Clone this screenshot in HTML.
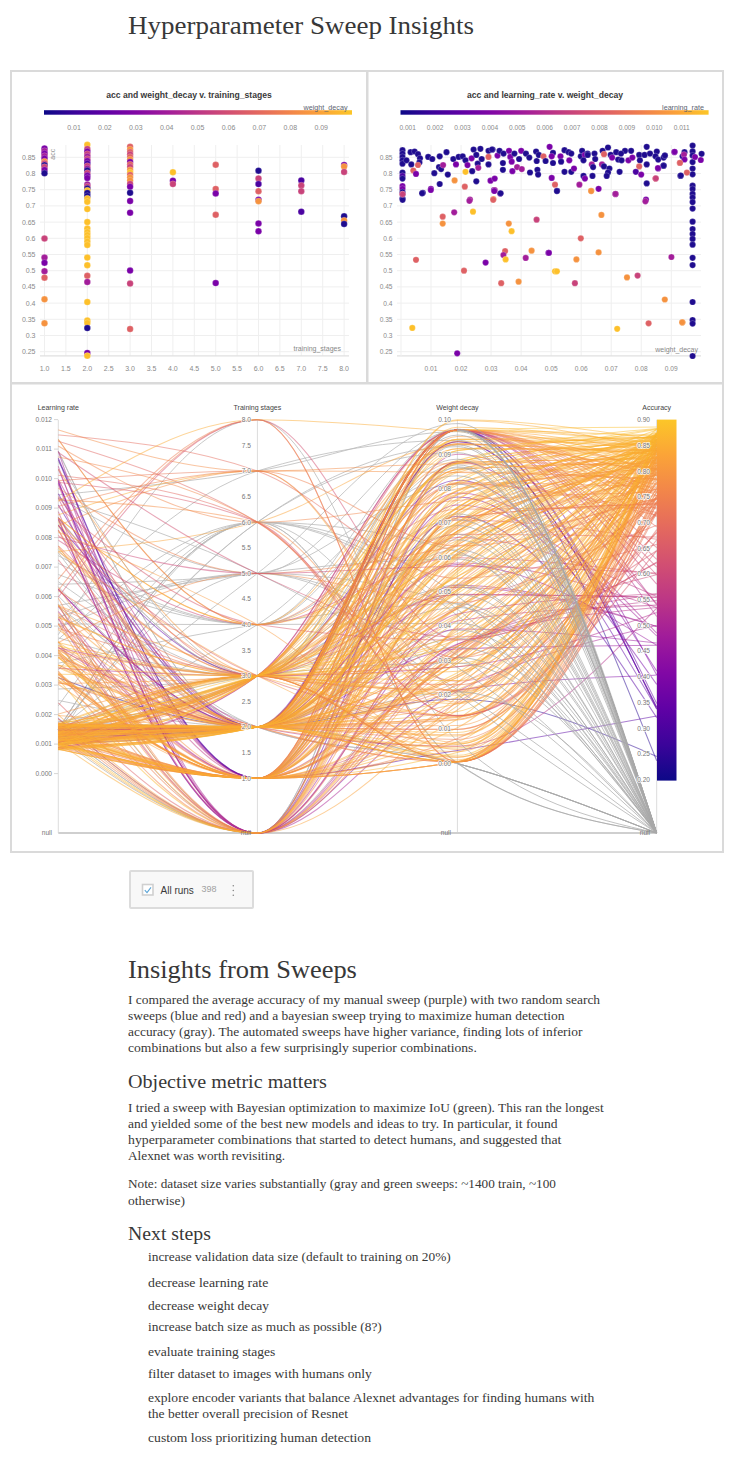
<!DOCTYPE html>
<html><head><meta charset="utf-8"><style>
html,body{margin:0;padding:0;background:#fff;width:738px;height:1466px;overflow:hidden;position:relative}
.t{position:absolute;white-space:nowrap;font-family:"Liberation Serif",serif;color:#383838;transform-origin:0 0}
svg{position:absolute;left:0;top:0}
.runs{position:absolute;left:128.5px;top:870px;width:121px;height:35px;border:2px solid #dcdcdc;border-radius:2px;background:#f8f8f8}
</style></head><body>
<svg width="738" height="1466" viewBox="0 0 738 1466">
<rect x="10" y="70" width="714" height="2" fill="#dadada"/>
<rect x="10" y="70" width="2" height="783" fill="#dadada"/>
<rect x="10" y="851" width="714" height="2" fill="#dadada"/>
<rect x="722" y="70" width="2" height="783" fill="#dadada"/>
<rect x="366" y="70" width="2.5" height="314" fill="#dadada"/>
<rect x="10" y="382" width="714" height="2.5" fill="#dadada"/>
<line x1="44.5" y1="145" x2="44.5" y2="356" stroke="#efefef" stroke-width="1"/>
<line x1="65.9" y1="145" x2="65.9" y2="356" stroke="#efefef" stroke-width="1"/>
<line x1="87.3" y1="145" x2="87.3" y2="356" stroke="#efefef" stroke-width="1"/>
<line x1="108.69999999999999" y1="145" x2="108.69999999999999" y2="356" stroke="#efefef" stroke-width="1"/>
<line x1="130.1" y1="145" x2="130.1" y2="356" stroke="#efefef" stroke-width="1"/>
<line x1="151.5" y1="145" x2="151.5" y2="356" stroke="#efefef" stroke-width="1"/>
<line x1="172.89999999999998" y1="145" x2="172.89999999999998" y2="356" stroke="#efefef" stroke-width="1"/>
<line x1="194.29999999999998" y1="145" x2="194.29999999999998" y2="356" stroke="#efefef" stroke-width="1"/>
<line x1="215.7" y1="145" x2="215.7" y2="356" stroke="#efefef" stroke-width="1"/>
<line x1="237.1" y1="145" x2="237.1" y2="356" stroke="#efefef" stroke-width="1"/>
<line x1="258.5" y1="145" x2="258.5" y2="356" stroke="#efefef" stroke-width="1"/>
<line x1="279.9" y1="145" x2="279.9" y2="356" stroke="#efefef" stroke-width="1"/>
<line x1="301.29999999999995" y1="145" x2="301.29999999999995" y2="356" stroke="#efefef" stroke-width="1"/>
<line x1="322.7" y1="145" x2="322.7" y2="356" stroke="#efefef" stroke-width="1"/>
<line x1="344.09999999999997" y1="145" x2="344.09999999999997" y2="356" stroke="#efefef" stroke-width="1"/>
<line x1="40" y1="157.3" x2="349" y2="157.3" stroke="#efefef" stroke-width="1"/>
<line x1="40" y1="173.5" x2="349" y2="173.5" stroke="#efefef" stroke-width="1"/>
<line x1="40" y1="189.70000000000002" x2="349" y2="189.70000000000002" stroke="#efefef" stroke-width="1"/>
<line x1="40" y1="205.9" x2="349" y2="205.9" stroke="#efefef" stroke-width="1"/>
<line x1="40" y1="222.10000000000002" x2="349" y2="222.10000000000002" stroke="#efefef" stroke-width="1"/>
<line x1="40" y1="238.3" x2="349" y2="238.3" stroke="#efefef" stroke-width="1"/>
<line x1="40" y1="254.5" x2="349" y2="254.5" stroke="#efefef" stroke-width="1"/>
<line x1="40" y1="270.7" x2="349" y2="270.7" stroke="#efefef" stroke-width="1"/>
<line x1="40" y1="286.9" x2="349" y2="286.9" stroke="#efefef" stroke-width="1"/>
<line x1="40" y1="303.1" x2="349" y2="303.1" stroke="#efefef" stroke-width="1"/>
<line x1="40" y1="319.3" x2="349" y2="319.3" stroke="#efefef" stroke-width="1"/>
<line x1="40" y1="335.5" x2="349" y2="335.5" stroke="#efefef" stroke-width="1"/>
<line x1="40" y1="351.7" x2="349" y2="351.7" stroke="#efefef" stroke-width="1"/>
<line x1="40" y1="355.8" x2="349" y2="355.8" stroke="#e0e0e0" stroke-width="1.2"/>
<text x="35.5" y="159.8" font-family='"Liberation Sans", sans-serif' font-size="7" fill="#8a8a8a" text-anchor="end" font-weight="normal" >0.85</text>
<text x="35.5" y="176.0" font-family='"Liberation Sans", sans-serif' font-size="7" fill="#8a8a8a" text-anchor="end" font-weight="normal" >0.8</text>
<text x="35.5" y="192.20000000000002" font-family='"Liberation Sans", sans-serif' font-size="7" fill="#8a8a8a" text-anchor="end" font-weight="normal" >0.75</text>
<text x="35.5" y="208.4" font-family='"Liberation Sans", sans-serif' font-size="7" fill="#8a8a8a" text-anchor="end" font-weight="normal" >0.7</text>
<text x="35.5" y="224.60000000000002" font-family='"Liberation Sans", sans-serif' font-size="7" fill="#8a8a8a" text-anchor="end" font-weight="normal" >0.65</text>
<text x="35.5" y="240.8" font-family='"Liberation Sans", sans-serif' font-size="7" fill="#8a8a8a" text-anchor="end" font-weight="normal" >0.6</text>
<text x="35.5" y="257.0" font-family='"Liberation Sans", sans-serif' font-size="7" fill="#8a8a8a" text-anchor="end" font-weight="normal" >0.55</text>
<text x="35.5" y="273.2" font-family='"Liberation Sans", sans-serif' font-size="7" fill="#8a8a8a" text-anchor="end" font-weight="normal" >0.5</text>
<text x="35.5" y="289.4" font-family='"Liberation Sans", sans-serif' font-size="7" fill="#8a8a8a" text-anchor="end" font-weight="normal" >0.45</text>
<text x="35.5" y="305.6" font-family='"Liberation Sans", sans-serif' font-size="7" fill="#8a8a8a" text-anchor="end" font-weight="normal" >0.4</text>
<text x="35.5" y="321.8" font-family='"Liberation Sans", sans-serif' font-size="7" fill="#8a8a8a" text-anchor="end" font-weight="normal" >0.35</text>
<text x="35.5" y="338.0" font-family='"Liberation Sans", sans-serif' font-size="7" fill="#8a8a8a" text-anchor="end" font-weight="normal" >0.3</text>
<text x="35.5" y="354.2" font-family='"Liberation Sans", sans-serif' font-size="7" fill="#8a8a8a" text-anchor="end" font-weight="normal" >0.25</text>
<text x="44.5" y="371" font-family='"Liberation Sans", sans-serif' font-size="7" fill="#8a8a8a" text-anchor="middle" font-weight="normal" >1.0</text>
<text x="65.9" y="371" font-family='"Liberation Sans", sans-serif' font-size="7" fill="#8a8a8a" text-anchor="middle" font-weight="normal" >1.5</text>
<text x="87.3" y="371" font-family='"Liberation Sans", sans-serif' font-size="7" fill="#8a8a8a" text-anchor="middle" font-weight="normal" >2.0</text>
<text x="108.69999999999999" y="371" font-family='"Liberation Sans", sans-serif' font-size="7" fill="#8a8a8a" text-anchor="middle" font-weight="normal" >2.5</text>
<text x="130.1" y="371" font-family='"Liberation Sans", sans-serif' font-size="7" fill="#8a8a8a" text-anchor="middle" font-weight="normal" >3.0</text>
<text x="151.5" y="371" font-family='"Liberation Sans", sans-serif' font-size="7" fill="#8a8a8a" text-anchor="middle" font-weight="normal" >3.5</text>
<text x="172.89999999999998" y="371" font-family='"Liberation Sans", sans-serif' font-size="7" fill="#8a8a8a" text-anchor="middle" font-weight="normal" >4.0</text>
<text x="194.29999999999998" y="371" font-family='"Liberation Sans", sans-serif' font-size="7" fill="#8a8a8a" text-anchor="middle" font-weight="normal" >4.5</text>
<text x="215.7" y="371" font-family='"Liberation Sans", sans-serif' font-size="7" fill="#8a8a8a" text-anchor="middle" font-weight="normal" >5.0</text>
<text x="237.1" y="371" font-family='"Liberation Sans", sans-serif' font-size="7" fill="#8a8a8a" text-anchor="middle" font-weight="normal" >5.5</text>
<text x="258.5" y="371" font-family='"Liberation Sans", sans-serif' font-size="7" fill="#8a8a8a" text-anchor="middle" font-weight="normal" >6.0</text>
<text x="279.9" y="371" font-family='"Liberation Sans", sans-serif' font-size="7" fill="#8a8a8a" text-anchor="middle" font-weight="normal" >6.5</text>
<text x="301.29999999999995" y="371" font-family='"Liberation Sans", sans-serif' font-size="7" fill="#8a8a8a" text-anchor="middle" font-weight="normal" >7.0</text>
<text x="322.7" y="371" font-family='"Liberation Sans", sans-serif' font-size="7" fill="#8a8a8a" text-anchor="middle" font-weight="normal" >7.5</text>
<text x="344.09999999999997" y="371" font-family='"Liberation Sans", sans-serif' font-size="7" fill="#8a8a8a" text-anchor="middle" font-weight="normal" >8.0</text>
<text x="189" y="97.7" font-family='"Liberation Sans", sans-serif' font-size="8.6" fill="#3a3a3a" text-anchor="middle" font-weight="bold" >acc and weight_decay v. training_stages</text>
<defs><linearGradient id="g64" x1="0" x2="1" y1="0" y2="0"><stop offset="0.0" stop-color="#0d0887"/><stop offset="0.1" stop-color="#3b049a"/><stop offset="0.2" stop-color="#6001a5"/><stop offset="0.3" stop-color="#8208a5"/><stop offset="0.4" stop-color="#a11c9a"/><stop offset="0.5" stop-color="#bc3686"/><stop offset="0.6" stop-color="#d24f72"/><stop offset="0.7" stop-color="#e4695e"/><stop offset="0.8" stop-color="#f2854a"/><stop offset="0.9" stop-color="#fba338"/><stop offset="1.0" stop-color="#fcc628"/></linearGradient></defs>
<rect x="44" y="110.2" width="308" height="4.5" fill="url(#g64)"/>
<text x="347.5" y="109.5" font-family='"Liberation Sans", sans-serif' font-size="7.2" fill="#5c6370" text-anchor="end" font-weight="normal" >weight_decay</text>
<text x="74.0" y="130" font-family='"Liberation Sans", sans-serif' font-size="7" fill="#8a8a8a" text-anchor="middle" font-weight="normal" >0.01</text>
<text x="104.9" y="130" font-family='"Liberation Sans", sans-serif' font-size="7" fill="#8a8a8a" text-anchor="middle" font-weight="normal" >0.02</text>
<text x="135.79999999999998" y="130" font-family='"Liberation Sans", sans-serif' font-size="7" fill="#8a8a8a" text-anchor="middle" font-weight="normal" >0.03</text>
<text x="166.7" y="130" font-family='"Liberation Sans", sans-serif' font-size="7" fill="#8a8a8a" text-anchor="middle" font-weight="normal" >0.04</text>
<text x="197.6" y="130" font-family='"Liberation Sans", sans-serif' font-size="7" fill="#8a8a8a" text-anchor="middle" font-weight="normal" >0.05</text>
<text x="228.49999999999997" y="130" font-family='"Liberation Sans", sans-serif' font-size="7" fill="#8a8a8a" text-anchor="middle" font-weight="normal" >0.06</text>
<text x="259.4" y="130" font-family='"Liberation Sans", sans-serif' font-size="7" fill="#8a8a8a" text-anchor="middle" font-weight="normal" >0.07</text>
<text x="290.3" y="130" font-family='"Liberation Sans", sans-serif' font-size="7" fill="#8a8a8a" text-anchor="middle" font-weight="normal" >0.08</text>
<text x="321.2" y="130" font-family='"Liberation Sans", sans-serif' font-size="7" fill="#8a8a8a" text-anchor="middle" font-weight="normal" >0.09</text>
<text x="0" y="0" font-family='"Liberation Sans", sans-serif' font-size="7" fill="#888" text-anchor="middle" font-weight="normal" transform="translate(55.2 154.2) rotate(-90)">acc</text>
<text x="341" y="351" font-family='"Liberation Sans", sans-serif' font-size="7" fill="#888" text-anchor="end" font-weight="normal" >training_stages</text>
<line x1="431.03" y1="145" x2="431.03" y2="356" stroke="#efefef" stroke-width="1"/>
<line x1="461.06" y1="145" x2="461.06" y2="356" stroke="#efefef" stroke-width="1"/>
<line x1="491.09000000000003" y1="145" x2="491.09000000000003" y2="356" stroke="#efefef" stroke-width="1"/>
<line x1="521.12" y1="145" x2="521.12" y2="356" stroke="#efefef" stroke-width="1"/>
<line x1="551.15" y1="145" x2="551.15" y2="356" stroke="#efefef" stroke-width="1"/>
<line x1="581.1800000000001" y1="145" x2="581.1800000000001" y2="356" stroke="#efefef" stroke-width="1"/>
<line x1="611.21" y1="145" x2="611.21" y2="356" stroke="#efefef" stroke-width="1"/>
<line x1="641.24" y1="145" x2="641.24" y2="356" stroke="#efefef" stroke-width="1"/>
<line x1="671.27" y1="145" x2="671.27" y2="356" stroke="#efefef" stroke-width="1"/>
<line x1="397" y1="157.3" x2="701" y2="157.3" stroke="#efefef" stroke-width="1"/>
<line x1="397" y1="173.5" x2="701" y2="173.5" stroke="#efefef" stroke-width="1"/>
<line x1="397" y1="189.70000000000002" x2="701" y2="189.70000000000002" stroke="#efefef" stroke-width="1"/>
<line x1="397" y1="205.9" x2="701" y2="205.9" stroke="#efefef" stroke-width="1"/>
<line x1="397" y1="222.10000000000002" x2="701" y2="222.10000000000002" stroke="#efefef" stroke-width="1"/>
<line x1="397" y1="238.3" x2="701" y2="238.3" stroke="#efefef" stroke-width="1"/>
<line x1="397" y1="254.5" x2="701" y2="254.5" stroke="#efefef" stroke-width="1"/>
<line x1="397" y1="270.7" x2="701" y2="270.7" stroke="#efefef" stroke-width="1"/>
<line x1="397" y1="286.9" x2="701" y2="286.9" stroke="#efefef" stroke-width="1"/>
<line x1="397" y1="303.1" x2="701" y2="303.1" stroke="#efefef" stroke-width="1"/>
<line x1="397" y1="319.3" x2="701" y2="319.3" stroke="#efefef" stroke-width="1"/>
<line x1="397" y1="335.5" x2="701" y2="335.5" stroke="#efefef" stroke-width="1"/>
<line x1="397" y1="351.7" x2="701" y2="351.7" stroke="#efefef" stroke-width="1"/>
<line x1="397" y1="355.8" x2="701" y2="355.8" stroke="#e0e0e0" stroke-width="1.2"/>
<line x1="401" y1="145" x2="401" y2="356" stroke="#efefef" stroke-width="1"/>
<text x="392.5" y="159.8" font-family='"Liberation Sans", sans-serif' font-size="6.6" fill="#8a8a8a" text-anchor="end" font-weight="normal" >0.85</text>
<text x="392.5" y="176.0" font-family='"Liberation Sans", sans-serif' font-size="6.6" fill="#8a8a8a" text-anchor="end" font-weight="normal" >0.8</text>
<text x="392.5" y="192.20000000000002" font-family='"Liberation Sans", sans-serif' font-size="6.6" fill="#8a8a8a" text-anchor="end" font-weight="normal" >0.75</text>
<text x="392.5" y="208.4" font-family='"Liberation Sans", sans-serif' font-size="6.6" fill="#8a8a8a" text-anchor="end" font-weight="normal" >0.7</text>
<text x="392.5" y="224.60000000000002" font-family='"Liberation Sans", sans-serif' font-size="6.6" fill="#8a8a8a" text-anchor="end" font-weight="normal" >0.65</text>
<text x="392.5" y="240.8" font-family='"Liberation Sans", sans-serif' font-size="6.6" fill="#8a8a8a" text-anchor="end" font-weight="normal" >0.6</text>
<text x="392.5" y="257.0" font-family='"Liberation Sans", sans-serif' font-size="6.6" fill="#8a8a8a" text-anchor="end" font-weight="normal" >0.55</text>
<text x="392.5" y="273.2" font-family='"Liberation Sans", sans-serif' font-size="6.6" fill="#8a8a8a" text-anchor="end" font-weight="normal" >0.5</text>
<text x="392.5" y="289.4" font-family='"Liberation Sans", sans-serif' font-size="6.6" fill="#8a8a8a" text-anchor="end" font-weight="normal" >0.45</text>
<text x="392.5" y="305.6" font-family='"Liberation Sans", sans-serif' font-size="6.6" fill="#8a8a8a" text-anchor="end" font-weight="normal" >0.4</text>
<text x="392.5" y="321.8" font-family='"Liberation Sans", sans-serif' font-size="6.6" fill="#8a8a8a" text-anchor="end" font-weight="normal" >0.35</text>
<text x="392.5" y="338.0" font-family='"Liberation Sans", sans-serif' font-size="6.6" fill="#8a8a8a" text-anchor="end" font-weight="normal" >0.3</text>
<text x="392.5" y="354.2" font-family='"Liberation Sans", sans-serif' font-size="6.6" fill="#8a8a8a" text-anchor="end" font-weight="normal" >0.25</text>
<text x="431.03" y="371" font-family='"Liberation Sans", sans-serif' font-size="6.6" fill="#8a8a8a" text-anchor="middle" font-weight="normal" >0.01</text>
<text x="461.06" y="371" font-family='"Liberation Sans", sans-serif' font-size="6.6" fill="#8a8a8a" text-anchor="middle" font-weight="normal" >0.02</text>
<text x="491.09000000000003" y="371" font-family='"Liberation Sans", sans-serif' font-size="6.6" fill="#8a8a8a" text-anchor="middle" font-weight="normal" >0.03</text>
<text x="521.12" y="371" font-family='"Liberation Sans", sans-serif' font-size="6.6" fill="#8a8a8a" text-anchor="middle" font-weight="normal" >0.04</text>
<text x="551.15" y="371" font-family='"Liberation Sans", sans-serif' font-size="6.6" fill="#8a8a8a" text-anchor="middle" font-weight="normal" >0.05</text>
<text x="581.1800000000001" y="371" font-family='"Liberation Sans", sans-serif' font-size="6.6" fill="#8a8a8a" text-anchor="middle" font-weight="normal" >0.06</text>
<text x="611.21" y="371" font-family='"Liberation Sans", sans-serif' font-size="6.6" fill="#8a8a8a" text-anchor="middle" font-weight="normal" >0.07</text>
<text x="641.24" y="371" font-family='"Liberation Sans", sans-serif' font-size="6.6" fill="#8a8a8a" text-anchor="middle" font-weight="normal" >0.08</text>
<text x="671.27" y="371" font-family='"Liberation Sans", sans-serif' font-size="6.6" fill="#8a8a8a" text-anchor="middle" font-weight="normal" >0.09</text>
<text x="545" y="97.7" font-family='"Liberation Sans", sans-serif' font-size="8.6" fill="#3a3a3a" text-anchor="middle" font-weight="bold" >acc and learning_rate v. weight_decay</text>
<defs><linearGradient id="g125" x1="0" x2="1" y1="0" y2="0"><stop offset="0.0" stop-color="#0d0887"/><stop offset="0.1" stop-color="#3b049a"/><stop offset="0.2" stop-color="#6001a5"/><stop offset="0.3" stop-color="#8208a5"/><stop offset="0.4" stop-color="#a11c9a"/><stop offset="0.5" stop-color="#bc3686"/><stop offset="0.6" stop-color="#d24f72"/><stop offset="0.7" stop-color="#e4695e"/><stop offset="0.8" stop-color="#f2854a"/><stop offset="0.9" stop-color="#fba338"/><stop offset="1.0" stop-color="#fcc628"/></linearGradient></defs>
<rect x="400.5" y="110.2" width="308.1" height="4.5" fill="url(#g125)"/>
<text x="704" y="109.5" font-family='"Liberation Sans", sans-serif' font-size="7.2" fill="#5c6370" text-anchor="end" font-weight="normal" >learning_rate</text>
<text x="407.7" y="130" font-family='"Liberation Sans", sans-serif' font-size="6.6" fill="#8a8a8a" text-anchor="middle" font-weight="normal" >0.001</text>
<text x="435.1" y="130" font-family='"Liberation Sans", sans-serif' font-size="6.6" fill="#8a8a8a" text-anchor="middle" font-weight="normal" >0.002</text>
<text x="462.5" y="130" font-family='"Liberation Sans", sans-serif' font-size="6.6" fill="#8a8a8a" text-anchor="middle" font-weight="normal" >0.003</text>
<text x="489.9" y="130" font-family='"Liberation Sans", sans-serif' font-size="6.6" fill="#8a8a8a" text-anchor="middle" font-weight="normal" >0.004</text>
<text x="517.3" y="130" font-family='"Liberation Sans", sans-serif' font-size="6.6" fill="#8a8a8a" text-anchor="middle" font-weight="normal" >0.005</text>
<text x="544.7" y="130" font-family='"Liberation Sans", sans-serif' font-size="6.6" fill="#8a8a8a" text-anchor="middle" font-weight="normal" >0.006</text>
<text x="572.1" y="130" font-family='"Liberation Sans", sans-serif' font-size="6.6" fill="#8a8a8a" text-anchor="middle" font-weight="normal" >0.007</text>
<text x="599.5" y="130" font-family='"Liberation Sans", sans-serif' font-size="6.6" fill="#8a8a8a" text-anchor="middle" font-weight="normal" >0.008</text>
<text x="626.9" y="130" font-family='"Liberation Sans", sans-serif' font-size="6.6" fill="#8a8a8a" text-anchor="middle" font-weight="normal" >0.009</text>
<text x="654.3" y="130" font-family='"Liberation Sans", sans-serif' font-size="6.6" fill="#8a8a8a" text-anchor="middle" font-weight="normal" >0.010</text>
<text x="681.7" y="130" font-family='"Liberation Sans", sans-serif' font-size="6.6" fill="#8a8a8a" text-anchor="middle" font-weight="normal" >0.011</text>
<text x="698" y="352" font-family='"Liberation Sans", sans-serif' font-size="7" fill="#888" text-anchor="end" font-weight="normal" >weight_decay</text>
<circle cx="44.5" cy="148.4" r="3.25" fill="#7a02a8" stroke="#fff" stroke-opacity="0.35" stroke-width="0.6"/>
<circle cx="44.5" cy="151.0" r="3.25" fill="#a21d9a" stroke="#fff" stroke-opacity="0.35" stroke-width="0.6"/>
<circle cx="44.5" cy="153.5" r="3.25" fill="#7a02a8" stroke="#fff" stroke-opacity="0.35" stroke-width="0.6"/>
<circle cx="44.5" cy="156.0" r="3.25" fill="#a21d9a" stroke="#fff" stroke-opacity="0.35" stroke-width="0.6"/>
<circle cx="44.5" cy="158.5" r="3.25" fill="#7a02a8" stroke="#fff" stroke-opacity="0.35" stroke-width="0.6"/>
<circle cx="44.5" cy="161.5" r="3.25" fill="#f5923f" stroke="#fff" stroke-opacity="0.35" stroke-width="0.6"/>
<circle cx="44.5" cy="163.5" r="3.25" fill="#c8437a" stroke="#fff" stroke-opacity="0.35" stroke-width="0.6"/>
<circle cx="44.5" cy="165.2" r="3.25" fill="#1f0c8f" stroke="#fff" stroke-opacity="0.35" stroke-width="0.6"/>
<circle cx="44.5" cy="167.0" r="3.25" fill="#c8437a" stroke="#fff" stroke-opacity="0.35" stroke-width="0.6"/>
<circle cx="44.5" cy="170.0" r="3.25" fill="#7a02a8" stroke="#fff" stroke-opacity="0.35" stroke-width="0.6"/>
<circle cx="44.5" cy="173.3" r="3.25" fill="#1f0c8f" stroke="#fff" stroke-opacity="0.35" stroke-width="0.6"/>
<circle cx="44.5" cy="238.5" r="3.25" fill="#c8437a" stroke="#fff" stroke-opacity="0.35" stroke-width="0.6"/>
<circle cx="44.5" cy="257.6" r="3.25" fill="#a21d9a" stroke="#fff" stroke-opacity="0.35" stroke-width="0.6"/>
<circle cx="44.5" cy="262.8" r="3.25" fill="#7a02a8" stroke="#fff" stroke-opacity="0.35" stroke-width="0.6"/>
<circle cx="44.5" cy="271.2" r="3.25" fill="#a21d9a" stroke="#fff" stroke-opacity="0.35" stroke-width="0.6"/>
<circle cx="44.5" cy="277.7" r="3.25" fill="#de6164" stroke="#fff" stroke-opacity="0.35" stroke-width="0.6"/>
<circle cx="44.5" cy="299.3" r="3.25" fill="#f5923f" stroke="#fff" stroke-opacity="0.35" stroke-width="0.6"/>
<circle cx="44.5" cy="323.3" r="3.25" fill="#f5923f" stroke="#fff" stroke-opacity="0.35" stroke-width="0.6"/>
<circle cx="87.3" cy="144.8" r="3.25" fill="#fdc02a" stroke="#fff" stroke-opacity="0.35" stroke-width="0.6"/>
<circle cx="87.3" cy="149.0" r="3.25" fill="#c8437a" stroke="#fff" stroke-opacity="0.35" stroke-width="0.6"/>
<circle cx="87.3" cy="151.5" r="3.25" fill="#7a02a8" stroke="#fff" stroke-opacity="0.35" stroke-width="0.6"/>
<circle cx="87.3" cy="154.0" r="3.25" fill="#c8437a" stroke="#fff" stroke-opacity="0.35" stroke-width="0.6"/>
<circle cx="87.3" cy="156.5" r="3.25" fill="#a21d9a" stroke="#fff" stroke-opacity="0.35" stroke-width="0.6"/>
<circle cx="87.3" cy="159.0" r="3.25" fill="#c8437a" stroke="#fff" stroke-opacity="0.35" stroke-width="0.6"/>
<circle cx="87.3" cy="161.0" r="3.25" fill="#7a02a8" stroke="#fff" stroke-opacity="0.35" stroke-width="0.6"/>
<circle cx="87.3" cy="163.5" r="3.25" fill="#4b03a1" stroke="#fff" stroke-opacity="0.35" stroke-width="0.6"/>
<circle cx="87.3" cy="166.0" r="3.25" fill="#c8437a" stroke="#fff" stroke-opacity="0.35" stroke-width="0.6"/>
<circle cx="87.3" cy="168.5" r="3.25" fill="#a21d9a" stroke="#fff" stroke-opacity="0.35" stroke-width="0.6"/>
<circle cx="87.3" cy="170.5" r="3.25" fill="#1f0c8f" stroke="#fff" stroke-opacity="0.35" stroke-width="0.6"/>
<circle cx="87.3" cy="173.0" r="3.25" fill="#c8437a" stroke="#fff" stroke-opacity="0.35" stroke-width="0.6"/>
<circle cx="87.3" cy="175.5" r="3.25" fill="#7a02a8" stroke="#fff" stroke-opacity="0.35" stroke-width="0.6"/>
<circle cx="87.3" cy="178.0" r="3.25" fill="#7a02a8" stroke="#fff" stroke-opacity="0.35" stroke-width="0.6"/>
<circle cx="87.3" cy="184.5" r="3.25" fill="#a21d9a" stroke="#fff" stroke-opacity="0.35" stroke-width="0.6"/>
<circle cx="87.3" cy="186.5" r="3.25" fill="#c8437a" stroke="#fff" stroke-opacity="0.35" stroke-width="0.6"/>
<circle cx="87.3" cy="188.5" r="3.25" fill="#1f0c8f" stroke="#fff" stroke-opacity="0.35" stroke-width="0.6"/>
<circle cx="87.3" cy="190.5" r="3.25" fill="#fdc02a" stroke="#fff" stroke-opacity="0.35" stroke-width="0.6"/>
<circle cx="87.3" cy="193.0" r="3.25" fill="#1f0c8f" stroke="#fff" stroke-opacity="0.35" stroke-width="0.6"/>
<circle cx="87.3" cy="196.0" r="3.25" fill="#1f0c8f" stroke="#fff" stroke-opacity="0.35" stroke-width="0.6"/>
<circle cx="87.3" cy="198.5" r="3.25" fill="#fdc02a" stroke="#fff" stroke-opacity="0.35" stroke-width="0.6"/>
<circle cx="87.3" cy="201.8" r="3.25" fill="#fdc02a" stroke="#fff" stroke-opacity="0.35" stroke-width="0.6"/>
<circle cx="87.3" cy="209.1" r="3.25" fill="#fdc02a" stroke="#fff" stroke-opacity="0.35" stroke-width="0.6"/>
<circle cx="87.3" cy="222.1" r="3.25" fill="#fdc02a" stroke="#fff" stroke-opacity="0.35" stroke-width="0.6"/>
<circle cx="87.3" cy="228.6" r="3.25" fill="#fdc02a" stroke="#fff" stroke-opacity="0.35" stroke-width="0.6"/>
<circle cx="87.3" cy="232.0" r="3.25" fill="#fdc02a" stroke="#fff" stroke-opacity="0.35" stroke-width="0.6"/>
<circle cx="87.3" cy="235.0" r="3.25" fill="#fdc02a" stroke="#fff" stroke-opacity="0.35" stroke-width="0.6"/>
<circle cx="87.3" cy="238.0" r="3.25" fill="#fdc02a" stroke="#fff" stroke-opacity="0.35" stroke-width="0.6"/>
<circle cx="87.3" cy="241.5" r="3.25" fill="#fdc02a" stroke="#fff" stroke-opacity="0.35" stroke-width="0.6"/>
<circle cx="87.3" cy="244.9" r="3.25" fill="#fdc02a" stroke="#fff" stroke-opacity="0.35" stroke-width="0.6"/>
<circle cx="87.3" cy="257.6" r="3.25" fill="#fdc02a" stroke="#fff" stroke-opacity="0.35" stroke-width="0.6"/>
<circle cx="87.3" cy="265.2" r="3.25" fill="#fdc02a" stroke="#fff" stroke-opacity="0.35" stroke-width="0.6"/>
<circle cx="87.3" cy="275.8" r="3.25" fill="#de6164" stroke="#fff" stroke-opacity="0.35" stroke-width="0.6"/>
<circle cx="87.3" cy="282.0" r="3.25" fill="#a21d9a" stroke="#fff" stroke-opacity="0.35" stroke-width="0.6"/>
<circle cx="87.3" cy="302.1" r="3.25" fill="#fdc02a" stroke="#fff" stroke-opacity="0.35" stroke-width="0.6"/>
<circle cx="87.3" cy="320.5" r="3.25" fill="#fdc02a" stroke="#fff" stroke-opacity="0.35" stroke-width="0.6"/>
<circle cx="87.3" cy="323.0" r="3.25" fill="#fdc02a" stroke="#fff" stroke-opacity="0.35" stroke-width="0.6"/>
<circle cx="87.3" cy="328.1" r="3.25" fill="#1f0c8f" stroke="#fff" stroke-opacity="0.35" stroke-width="0.6"/>
<circle cx="87.3" cy="353.0" r="3.25" fill="#7a02a8" stroke="#fff" stroke-opacity="0.35" stroke-width="0.6"/>
<circle cx="87.3" cy="355.8" r="3.25" fill="#fdc02a" stroke="#fff" stroke-opacity="0.35" stroke-width="0.6"/>
<circle cx="130.1" cy="146.8" r="3.25" fill="#de6164" stroke="#fff" stroke-opacity="0.35" stroke-width="0.6"/>
<circle cx="130.1" cy="149.5" r="3.25" fill="#f5923f" stroke="#fff" stroke-opacity="0.35" stroke-width="0.6"/>
<circle cx="130.1" cy="152.0" r="3.25" fill="#de6164" stroke="#fff" stroke-opacity="0.35" stroke-width="0.6"/>
<circle cx="130.1" cy="154.5" r="3.25" fill="#c8437a" stroke="#fff" stroke-opacity="0.35" stroke-width="0.6"/>
<circle cx="130.1" cy="157.0" r="3.25" fill="#de6164" stroke="#fff" stroke-opacity="0.35" stroke-width="0.6"/>
<circle cx="130.1" cy="159.5" r="3.25" fill="#f5923f" stroke="#fff" stroke-opacity="0.35" stroke-width="0.6"/>
<circle cx="130.1" cy="162.0" r="3.25" fill="#7a02a8" stroke="#fff" stroke-opacity="0.35" stroke-width="0.6"/>
<circle cx="130.1" cy="164.5" r="3.25" fill="#de6164" stroke="#fff" stroke-opacity="0.35" stroke-width="0.6"/>
<circle cx="130.1" cy="167.0" r="3.25" fill="#c8437a" stroke="#fff" stroke-opacity="0.35" stroke-width="0.6"/>
<circle cx="130.1" cy="170.0" r="3.25" fill="#f5923f" stroke="#fff" stroke-opacity="0.35" stroke-width="0.6"/>
<circle cx="130.1" cy="172.5" r="3.25" fill="#fdc02a" stroke="#fff" stroke-opacity="0.35" stroke-width="0.6"/>
<circle cx="130.1" cy="175.0" r="3.25" fill="#de6164" stroke="#fff" stroke-opacity="0.35" stroke-width="0.6"/>
<circle cx="130.1" cy="177.5" r="3.25" fill="#f5923f" stroke="#fff" stroke-opacity="0.35" stroke-width="0.6"/>
<circle cx="130.1" cy="180.5" r="3.25" fill="#f5923f" stroke="#fff" stroke-opacity="0.35" stroke-width="0.6"/>
<circle cx="130.1" cy="183.9" r="3.25" fill="#c8437a" stroke="#fff" stroke-opacity="0.35" stroke-width="0.6"/>
<circle cx="130.1" cy="186.7" r="3.25" fill="#7a02a8" stroke="#fff" stroke-opacity="0.35" stroke-width="0.6"/>
<circle cx="130.1" cy="192.8" r="3.25" fill="#1f0c8f" stroke="#fff" stroke-opacity="0.35" stroke-width="0.6"/>
<circle cx="130.1" cy="201.0" r="3.25" fill="#7a02a8" stroke="#fff" stroke-opacity="0.35" stroke-width="0.6"/>
<circle cx="130.1" cy="212.7" r="3.25" fill="#7a02a8" stroke="#fff" stroke-opacity="0.35" stroke-width="0.6"/>
<circle cx="130.1" cy="270.6" r="3.25" fill="#7a02a8" stroke="#fff" stroke-opacity="0.35" stroke-width="0.6"/>
<circle cx="130.1" cy="283.6" r="3.25" fill="#c8437a" stroke="#fff" stroke-opacity="0.35" stroke-width="0.6"/>
<circle cx="130.1" cy="329.0" r="3.25" fill="#de6164" stroke="#fff" stroke-opacity="0.35" stroke-width="0.6"/>
<circle cx="172.9" cy="172.2" r="3.25" fill="#fdc02a" stroke="#fff" stroke-opacity="0.35" stroke-width="0.6"/>
<circle cx="172.9" cy="180.7" r="3.25" fill="#7a02a8" stroke="#fff" stroke-opacity="0.35" stroke-width="0.6"/>
<circle cx="172.9" cy="184.1" r="3.25" fill="#c8437a" stroke="#fff" stroke-opacity="0.35" stroke-width="0.6"/>
<circle cx="215.7" cy="164.8" r="3.25" fill="#de6164" stroke="#fff" stroke-opacity="0.35" stroke-width="0.6"/>
<circle cx="215.7" cy="189.0" r="3.25" fill="#de6164" stroke="#fff" stroke-opacity="0.35" stroke-width="0.6"/>
<circle cx="215.7" cy="193.5" r="3.25" fill="#7a02a8" stroke="#fff" stroke-opacity="0.35" stroke-width="0.6"/>
<circle cx="215.7" cy="214.8" r="3.25" fill="#de6164" stroke="#fff" stroke-opacity="0.35" stroke-width="0.6"/>
<circle cx="215.7" cy="283.1" r="3.25" fill="#7a02a8" stroke="#fff" stroke-opacity="0.35" stroke-width="0.6"/>
<circle cx="258.5" cy="170.7" r="3.25" fill="#1f0c8f" stroke="#fff" stroke-opacity="0.35" stroke-width="0.6"/>
<circle cx="258.5" cy="178.4" r="3.25" fill="#c8437a" stroke="#fff" stroke-opacity="0.35" stroke-width="0.6"/>
<circle cx="258.5" cy="184.1" r="3.25" fill="#4b03a1" stroke="#fff" stroke-opacity="0.35" stroke-width="0.6"/>
<circle cx="258.5" cy="191.2" r="3.25" fill="#de6164" stroke="#fff" stroke-opacity="0.35" stroke-width="0.6"/>
<circle cx="258.5" cy="199.8" r="3.25" fill="#7a02a8" stroke="#fff" stroke-opacity="0.35" stroke-width="0.6"/>
<circle cx="258.5" cy="201.2" r="3.25" fill="#f5923f" stroke="#fff" stroke-opacity="0.35" stroke-width="0.6"/>
<circle cx="258.5" cy="223.4" r="3.25" fill="#7a02a8" stroke="#fff" stroke-opacity="0.35" stroke-width="0.6"/>
<circle cx="258.5" cy="231.3" r="3.25" fill="#7a02a8" stroke="#fff" stroke-opacity="0.35" stroke-width="0.6"/>
<circle cx="301.3" cy="180.4" r="3.25" fill="#4b03a1" stroke="#fff" stroke-opacity="0.35" stroke-width="0.6"/>
<circle cx="301.3" cy="185.5" r="3.25" fill="#c8437a" stroke="#fff" stroke-opacity="0.35" stroke-width="0.6"/>
<circle cx="301.3" cy="191.2" r="3.25" fill="#c8437a" stroke="#fff" stroke-opacity="0.35" stroke-width="0.6"/>
<circle cx="301.3" cy="211.7" r="3.25" fill="#4b03a1" stroke="#fff" stroke-opacity="0.35" stroke-width="0.6"/>
<circle cx="344.1" cy="165.0" r="3.25" fill="#7a02a8" stroke="#fff" stroke-opacity="0.35" stroke-width="0.6"/>
<circle cx="344.1" cy="166.5" r="3.25" fill="#f5923f" stroke="#fff" stroke-opacity="0.35" stroke-width="0.6"/>
<circle cx="344.1" cy="171.9" r="3.25" fill="#c8437a" stroke="#fff" stroke-opacity="0.35" stroke-width="0.6"/>
<circle cx="344.1" cy="216.3" r="3.25" fill="#1f0c8f" stroke="#fff" stroke-opacity="0.35" stroke-width="0.6"/>
<circle cx="344.1" cy="220.5" r="3.25" fill="#f5923f" stroke="#fff" stroke-opacity="0.35" stroke-width="0.6"/>
<circle cx="344.1" cy="224.0" r="3.25" fill="#1f0c8f" stroke="#fff" stroke-opacity="0.35" stroke-width="0.6"/>
<circle cx="402.5" cy="150.2" r="3.1" fill="#1f0c8f" stroke="#fff" stroke-opacity="0.35" stroke-width="0.6"/>
<circle cx="402.5" cy="153.6" r="3.1" fill="#1f0c8f" stroke="#fff" stroke-opacity="0.35" stroke-width="0.6"/>
<circle cx="402.5" cy="156.9" r="3.1" fill="#1f0c8f" stroke="#fff" stroke-opacity="0.35" stroke-width="0.6"/>
<circle cx="402.5" cy="160.3" r="3.1" fill="#1f0c8f" stroke="#fff" stroke-opacity="0.35" stroke-width="0.6"/>
<circle cx="402.5" cy="163.7" r="3.1" fill="#1f0c8f" stroke="#fff" stroke-opacity="0.35" stroke-width="0.6"/>
<circle cx="402.5" cy="172.5" r="3.1" fill="#1f0c8f" stroke="#fff" stroke-opacity="0.35" stroke-width="0.6"/>
<circle cx="402.5" cy="175.9" r="3.1" fill="#4b03a1" stroke="#fff" stroke-opacity="0.35" stroke-width="0.6"/>
<circle cx="402.5" cy="178.6" r="3.1" fill="#1f0c8f" stroke="#fff" stroke-opacity="0.35" stroke-width="0.6"/>
<circle cx="402.5" cy="186.1" r="3.1" fill="#7a02a8" stroke="#fff" stroke-opacity="0.35" stroke-width="0.6"/>
<circle cx="402.5" cy="188.8" r="3.1" fill="#7a02a8" stroke="#fff" stroke-opacity="0.35" stroke-width="0.6"/>
<circle cx="402.5" cy="192.2" r="3.1" fill="#1f0c8f" stroke="#fff" stroke-opacity="0.35" stroke-width="0.6"/>
<circle cx="402.5" cy="194.2" r="3.1" fill="#c8437a" stroke="#fff" stroke-opacity="0.35" stroke-width="0.6"/>
<circle cx="402.5" cy="198.3" r="3.1" fill="#1f0c8f" stroke="#fff" stroke-opacity="0.35" stroke-width="0.6"/>
<circle cx="402.6" cy="199.8" r="3.1" fill="#1f0c8f" stroke="#fff" stroke-opacity="0.35" stroke-width="0.6"/>
<circle cx="406.5" cy="160.3" r="3.1" fill="#1f0c8f" stroke="#fff" stroke-opacity="0.35" stroke-width="0.6"/>
<circle cx="410.6" cy="152.2" r="3.1" fill="#1f0c8f" stroke="#fff" stroke-opacity="0.35" stroke-width="0.6"/>
<circle cx="414.6" cy="151.5" r="3.1" fill="#1f0c8f" stroke="#fff" stroke-opacity="0.35" stroke-width="0.6"/>
<circle cx="418.0" cy="154.2" r="3.1" fill="#1f0c8f" stroke="#fff" stroke-opacity="0.35" stroke-width="0.6"/>
<circle cx="420.0" cy="158.3" r="3.1" fill="#1f0c8f" stroke="#fff" stroke-opacity="0.35" stroke-width="0.6"/>
<circle cx="419.4" cy="162.4" r="3.1" fill="#1f0c8f" stroke="#fff" stroke-opacity="0.35" stroke-width="0.6"/>
<circle cx="411.3" cy="164.4" r="3.1" fill="#1f0c8f" stroke="#fff" stroke-opacity="0.35" stroke-width="0.6"/>
<circle cx="418.0" cy="165.0" r="3.1" fill="#de6164" stroke="#fff" stroke-opacity="0.35" stroke-width="0.6"/>
<circle cx="413.3" cy="170.5" r="3.1" fill="#de6164" stroke="#fff" stroke-opacity="0.35" stroke-width="0.6"/>
<circle cx="416.0" cy="173.9" r="3.1" fill="#7a02a8" stroke="#fff" stroke-opacity="0.35" stroke-width="0.6"/>
<circle cx="428.2" cy="156.9" r="3.1" fill="#1f0c8f" stroke="#fff" stroke-opacity="0.35" stroke-width="0.6"/>
<circle cx="432.3" cy="159.0" r="3.1" fill="#1f0c8f" stroke="#fff" stroke-opacity="0.35" stroke-width="0.6"/>
<circle cx="439.7" cy="156.3" r="3.1" fill="#1f0c8f" stroke="#fff" stroke-opacity="0.35" stroke-width="0.6"/>
<circle cx="446.5" cy="152.2" r="3.1" fill="#1f0c8f" stroke="#fff" stroke-opacity="0.35" stroke-width="0.6"/>
<circle cx="434.3" cy="173.2" r="3.1" fill="#1f0c8f" stroke="#fff" stroke-opacity="0.35" stroke-width="0.6"/>
<circle cx="439.0" cy="167.1" r="3.1" fill="#1f0c8f" stroke="#fff" stroke-opacity="0.35" stroke-width="0.6"/>
<circle cx="441.1" cy="169.1" r="3.1" fill="#1f0c8f" stroke="#fff" stroke-opacity="0.35" stroke-width="0.6"/>
<circle cx="443.1" cy="165.1" r="3.1" fill="#a21d9a" stroke="#fff" stroke-opacity="0.35" stroke-width="0.6"/>
<circle cx="447.8" cy="174.6" r="3.1" fill="#1f0c8f" stroke="#fff" stroke-opacity="0.35" stroke-width="0.6"/>
<circle cx="439.7" cy="184.0" r="3.1" fill="#1f0c8f" stroke="#fff" stroke-opacity="0.35" stroke-width="0.6"/>
<circle cx="430.9" cy="188.8" r="3.1" fill="#7a02a8" stroke="#fff" stroke-opacity="0.35" stroke-width="0.6"/>
<circle cx="422.8" cy="192.8" r="3.1" fill="#1f0c8f" stroke="#fff" stroke-opacity="0.35" stroke-width="0.6"/>
<circle cx="453.3" cy="159.0" r="3.1" fill="#1f0c8f" stroke="#fff" stroke-opacity="0.35" stroke-width="0.6"/>
<circle cx="456.0" cy="164.4" r="3.1" fill="#7a02a8" stroke="#fff" stroke-opacity="0.35" stroke-width="0.6"/>
<circle cx="458.7" cy="156.9" r="3.1" fill="#1f0c8f" stroke="#fff" stroke-opacity="0.35" stroke-width="0.6"/>
<circle cx="462.7" cy="156.3" r="3.1" fill="#1f0c8f" stroke="#fff" stroke-opacity="0.35" stroke-width="0.6"/>
<circle cx="465.5" cy="160.3" r="3.1" fill="#1f0c8f" stroke="#fff" stroke-opacity="0.35" stroke-width="0.6"/>
<circle cx="467.5" cy="165.1" r="3.1" fill="#7a02a8" stroke="#fff" stroke-opacity="0.35" stroke-width="0.6"/>
<circle cx="471.6" cy="158.3" r="3.1" fill="#7a02a8" stroke="#fff" stroke-opacity="0.35" stroke-width="0.6"/>
<circle cx="465.5" cy="171.8" r="3.1" fill="#fdc02a" stroke="#fff" stroke-opacity="0.35" stroke-width="0.6"/>
<circle cx="472.2" cy="171.2" r="3.1" fill="#1f0c8f" stroke="#fff" stroke-opacity="0.35" stroke-width="0.6"/>
<circle cx="454.6" cy="180.4" r="3.1" fill="#f5923f" stroke="#fff" stroke-opacity="0.35" stroke-width="0.6"/>
<circle cx="464.8" cy="186.7" r="3.1" fill="#de6164" stroke="#fff" stroke-opacity="0.35" stroke-width="0.6"/>
<circle cx="476.3" cy="181.3" r="3.1" fill="#1f0c8f" stroke="#fff" stroke-opacity="0.35" stroke-width="0.6"/>
<circle cx="473.6" cy="149.5" r="3.1" fill="#1f0c8f" stroke="#fff" stroke-opacity="0.35" stroke-width="0.6"/>
<circle cx="480.4" cy="148.8" r="3.1" fill="#1f0c8f" stroke="#fff" stroke-opacity="0.35" stroke-width="0.6"/>
<circle cx="488.5" cy="150.8" r="3.1" fill="#1f0c8f" stroke="#fff" stroke-opacity="0.35" stroke-width="0.6"/>
<circle cx="492.6" cy="149.5" r="3.1" fill="#1f0c8f" stroke="#fff" stroke-opacity="0.35" stroke-width="0.6"/>
<circle cx="476.3" cy="154.9" r="3.1" fill="#1f0c8f" stroke="#fff" stroke-opacity="0.35" stroke-width="0.6"/>
<circle cx="481.7" cy="159.0" r="3.1" fill="#1f0c8f" stroke="#fff" stroke-opacity="0.35" stroke-width="0.6"/>
<circle cx="488.5" cy="156.9" r="3.1" fill="#de6164" stroke="#fff" stroke-opacity="0.35" stroke-width="0.6"/>
<circle cx="488.5" cy="164.4" r="3.1" fill="#1f0c8f" stroke="#fff" stroke-opacity="0.35" stroke-width="0.6"/>
<circle cx="477.7" cy="163.7" r="3.1" fill="#1f0c8f" stroke="#fff" stroke-opacity="0.35" stroke-width="0.6"/>
<circle cx="478.3" cy="167.8" r="3.1" fill="#a21d9a" stroke="#fff" stroke-opacity="0.35" stroke-width="0.6"/>
<circle cx="490.5" cy="180.7" r="3.1" fill="#7a02a8" stroke="#fff" stroke-opacity="0.35" stroke-width="0.6"/>
<circle cx="494.0" cy="190.0" r="3.1" fill="#7a02a8" stroke="#fff" stroke-opacity="0.35" stroke-width="0.6"/>
<circle cx="470.0" cy="199.6" r="3.1" fill="#a21d9a" stroke="#fff" stroke-opacity="0.35" stroke-width="0.6"/>
<circle cx="492.0" cy="149.5" r="3.1" fill="#1f0c8f" stroke="#fff" stroke-opacity="0.35" stroke-width="0.6"/>
<circle cx="497.5" cy="155.6" r="3.1" fill="#7a02a8" stroke="#fff" stroke-opacity="0.35" stroke-width="0.6"/>
<circle cx="499.5" cy="150.8" r="3.1" fill="#1f0c8f" stroke="#fff" stroke-opacity="0.35" stroke-width="0.6"/>
<circle cx="503.6" cy="153.6" r="3.1" fill="#1f0c8f" stroke="#fff" stroke-opacity="0.35" stroke-width="0.6"/>
<circle cx="509.0" cy="150.8" r="3.1" fill="#7a02a8" stroke="#fff" stroke-opacity="0.35" stroke-width="0.6"/>
<circle cx="510.3" cy="156.9" r="3.1" fill="#7a02a8" stroke="#fff" stroke-opacity="0.35" stroke-width="0.6"/>
<circle cx="514.4" cy="153.6" r="3.1" fill="#1f0c8f" stroke="#fff" stroke-opacity="0.35" stroke-width="0.6"/>
<circle cx="511.7" cy="161.7" r="3.1" fill="#7a02a8" stroke="#fff" stroke-opacity="0.35" stroke-width="0.6"/>
<circle cx="502.9" cy="163.0" r="3.1" fill="#1f0c8f" stroke="#fff" stroke-opacity="0.35" stroke-width="0.6"/>
<circle cx="502.9" cy="169.8" r="3.1" fill="#1f0c8f" stroke="#fff" stroke-opacity="0.35" stroke-width="0.6"/>
<circle cx="517.1" cy="167.1" r="3.1" fill="#a21d9a" stroke="#fff" stroke-opacity="0.35" stroke-width="0.6"/>
<circle cx="521.8" cy="169.1" r="3.1" fill="#a21d9a" stroke="#fff" stroke-opacity="0.35" stroke-width="0.6"/>
<circle cx="512.4" cy="171.2" r="3.1" fill="#7a02a8" stroke="#fff" stroke-opacity="0.35" stroke-width="0.6"/>
<circle cx="521.2" cy="150.8" r="3.1" fill="#7a02a8" stroke="#fff" stroke-opacity="0.35" stroke-width="0.6"/>
<circle cx="519.1" cy="159.0" r="3.1" fill="#1f0c8f" stroke="#fff" stroke-opacity="0.35" stroke-width="0.6"/>
<circle cx="525.9" cy="153.6" r="3.1" fill="#1f0c8f" stroke="#fff" stroke-opacity="0.35" stroke-width="0.6"/>
<circle cx="529.3" cy="157.6" r="3.1" fill="#1f0c8f" stroke="#fff" stroke-opacity="0.35" stroke-width="0.6"/>
<circle cx="536.1" cy="151.5" r="3.1" fill="#1f0c8f" stroke="#fff" stroke-opacity="0.35" stroke-width="0.6"/>
<circle cx="536.7" cy="161.0" r="3.1" fill="#1f0c8f" stroke="#fff" stroke-opacity="0.35" stroke-width="0.6"/>
<circle cx="538.8" cy="154.9" r="3.1" fill="#1f0c8f" stroke="#fff" stroke-opacity="0.35" stroke-width="0.6"/>
<circle cx="543.5" cy="156.3" r="3.1" fill="#de6164" stroke="#fff" stroke-opacity="0.35" stroke-width="0.6"/>
<circle cx="545.6" cy="161.0" r="3.1" fill="#1f0c8f" stroke="#fff" stroke-opacity="0.35" stroke-width="0.6"/>
<circle cx="549.6" cy="146.8" r="3.1" fill="#7a02a8" stroke="#fff" stroke-opacity="0.35" stroke-width="0.6"/>
<circle cx="553.0" cy="152.9" r="3.1" fill="#1f0c8f" stroke="#fff" stroke-opacity="0.35" stroke-width="0.6"/>
<circle cx="551.7" cy="156.3" r="3.1" fill="#7a02a8" stroke="#fff" stroke-opacity="0.35" stroke-width="0.6"/>
<circle cx="553.0" cy="163.0" r="3.1" fill="#1f0c8f" stroke="#fff" stroke-opacity="0.35" stroke-width="0.6"/>
<circle cx="560.5" cy="156.3" r="3.1" fill="#7a02a8" stroke="#fff" stroke-opacity="0.35" stroke-width="0.6"/>
<circle cx="561.1" cy="161.7" r="3.1" fill="#1f0c8f" stroke="#fff" stroke-opacity="0.35" stroke-width="0.6"/>
<circle cx="564.5" cy="150.2" r="3.1" fill="#1f0c8f" stroke="#fff" stroke-opacity="0.35" stroke-width="0.6"/>
<circle cx="568.6" cy="152.2" r="3.1" fill="#1f0c8f" stroke="#fff" stroke-opacity="0.35" stroke-width="0.6"/>
<circle cx="571.3" cy="153.6" r="3.1" fill="#1f0c8f" stroke="#fff" stroke-opacity="0.35" stroke-width="0.6"/>
<circle cx="569.3" cy="160.3" r="3.1" fill="#7a02a8" stroke="#fff" stroke-opacity="0.35" stroke-width="0.6"/>
<circle cx="537.4" cy="169.8" r="3.1" fill="#1f0c8f" stroke="#fff" stroke-opacity="0.35" stroke-width="0.6"/>
<circle cx="538.1" cy="174.6" r="3.1" fill="#1f0c8f" stroke="#fff" stroke-opacity="0.35" stroke-width="0.6"/>
<circle cx="530.0" cy="172.5" r="3.1" fill="#1f0c8f" stroke="#fff" stroke-opacity="0.35" stroke-width="0.6"/>
<circle cx="564.5" cy="171.8" r="3.1" fill="#1f0c8f" stroke="#fff" stroke-opacity="0.35" stroke-width="0.6"/>
<circle cx="571.3" cy="171.8" r="3.1" fill="#1f0c8f" stroke="#fff" stroke-opacity="0.35" stroke-width="0.6"/>
<circle cx="574.0" cy="168.5" r="3.1" fill="#7a02a8" stroke="#fff" stroke-opacity="0.35" stroke-width="0.6"/>
<circle cx="582.1" cy="150.8" r="3.1" fill="#1f0c8f" stroke="#fff" stroke-opacity="0.35" stroke-width="0.6"/>
<circle cx="580.8" cy="156.3" r="3.1" fill="#1f0c8f" stroke="#fff" stroke-opacity="0.35" stroke-width="0.6"/>
<circle cx="584.9" cy="154.9" r="3.1" fill="#7a02a8" stroke="#fff" stroke-opacity="0.35" stroke-width="0.6"/>
<circle cx="587.6" cy="153.6" r="3.1" fill="#1f0c8f" stroke="#fff" stroke-opacity="0.35" stroke-width="0.6"/>
<circle cx="583.5" cy="160.3" r="3.1" fill="#1f0c8f" stroke="#fff" stroke-opacity="0.35" stroke-width="0.6"/>
<circle cx="583.5" cy="175.9" r="3.1" fill="#1f0c8f" stroke="#fff" stroke-opacity="0.35" stroke-width="0.6"/>
<circle cx="584.9" cy="178.6" r="3.1" fill="#7a02a8" stroke="#fff" stroke-opacity="0.35" stroke-width="0.6"/>
<circle cx="551.7" cy="177.9" r="3.1" fill="#7a02a8" stroke="#fff" stroke-opacity="0.35" stroke-width="0.6"/>
<circle cx="555.0" cy="184.7" r="3.1" fill="#de6164" stroke="#fff" stroke-opacity="0.35" stroke-width="0.6"/>
<circle cx="557.1" cy="190.8" r="3.1" fill="#1f0c8f" stroke="#fff" stroke-opacity="0.35" stroke-width="0.6"/>
<circle cx="579.4" cy="184.7" r="3.1" fill="#a21d9a" stroke="#fff" stroke-opacity="0.35" stroke-width="0.6"/>
<circle cx="494.7" cy="178.6" r="3.1" fill="#7a02a8" stroke="#fff" stroke-opacity="0.35" stroke-width="0.6"/>
<circle cx="494.7" cy="190.1" r="3.1" fill="#a21d9a" stroke="#fff" stroke-opacity="0.35" stroke-width="0.6"/>
<circle cx="500.2" cy="193.5" r="3.1" fill="#7a02a8" stroke="#fff" stroke-opacity="0.35" stroke-width="0.6"/>
<circle cx="493.4" cy="199.0" r="3.1" fill="#f5923f" stroke="#fff" stroke-opacity="0.35" stroke-width="0.6"/>
<circle cx="587.7" cy="154.9" r="3.1" fill="#1f0c8f" stroke="#fff" stroke-opacity="0.35" stroke-width="0.6"/>
<circle cx="594.5" cy="153.6" r="3.1" fill="#1f0c8f" stroke="#fff" stroke-opacity="0.35" stroke-width="0.6"/>
<circle cx="595.2" cy="159.0" r="3.1" fill="#1f0c8f" stroke="#fff" stroke-opacity="0.35" stroke-width="0.6"/>
<circle cx="602.6" cy="150.8" r="3.1" fill="#1f0c8f" stroke="#fff" stroke-opacity="0.35" stroke-width="0.6"/>
<circle cx="608.0" cy="147.5" r="3.1" fill="#1f0c8f" stroke="#fff" stroke-opacity="0.35" stroke-width="0.6"/>
<circle cx="604.0" cy="154.2" r="3.1" fill="#de6164" stroke="#fff" stroke-opacity="0.35" stroke-width="0.6"/>
<circle cx="610.7" cy="154.9" r="3.1" fill="#1f0c8f" stroke="#fff" stroke-opacity="0.35" stroke-width="0.6"/>
<circle cx="612.1" cy="157.6" r="3.1" fill="#7a02a8" stroke="#fff" stroke-opacity="0.35" stroke-width="0.6"/>
<circle cx="616.2" cy="152.2" r="3.1" fill="#1f0c8f" stroke="#fff" stroke-opacity="0.35" stroke-width="0.6"/>
<circle cx="618.2" cy="159.6" r="3.1" fill="#1f0c8f" stroke="#fff" stroke-opacity="0.35" stroke-width="0.6"/>
<circle cx="621.6" cy="160.3" r="3.1" fill="#1f0c8f" stroke="#fff" stroke-opacity="0.35" stroke-width="0.6"/>
<circle cx="625.0" cy="150.8" r="3.1" fill="#1f0c8f" stroke="#fff" stroke-opacity="0.35" stroke-width="0.6"/>
<circle cx="621.0" cy="153.6" r="3.1" fill="#1f0c8f" stroke="#fff" stroke-opacity="0.35" stroke-width="0.6"/>
<circle cx="631.1" cy="150.8" r="3.1" fill="#1f0c8f" stroke="#fff" stroke-opacity="0.35" stroke-width="0.6"/>
<circle cx="628.4" cy="160.3" r="3.1" fill="#7a02a8" stroke="#fff" stroke-opacity="0.35" stroke-width="0.6"/>
<circle cx="632.4" cy="157.6" r="3.1" fill="#7a02a8" stroke="#fff" stroke-opacity="0.35" stroke-width="0.6"/>
<circle cx="639.2" cy="154.9" r="3.1" fill="#1f0c8f" stroke="#fff" stroke-opacity="0.35" stroke-width="0.6"/>
<circle cx="639.9" cy="160.3" r="3.1" fill="#1f0c8f" stroke="#fff" stroke-opacity="0.35" stroke-width="0.6"/>
<circle cx="646.7" cy="146.8" r="3.1" fill="#1f0c8f" stroke="#fff" stroke-opacity="0.35" stroke-width="0.6"/>
<circle cx="644.6" cy="154.9" r="3.1" fill="#1f0c8f" stroke="#fff" stroke-opacity="0.35" stroke-width="0.6"/>
<circle cx="650.0" cy="153.6" r="3.1" fill="#1f0c8f" stroke="#fff" stroke-opacity="0.35" stroke-width="0.6"/>
<circle cx="656.8" cy="151.5" r="3.1" fill="#1f0c8f" stroke="#fff" stroke-opacity="0.35" stroke-width="0.6"/>
<circle cx="655.5" cy="156.3" r="3.1" fill="#1f0c8f" stroke="#fff" stroke-opacity="0.35" stroke-width="0.6"/>
<circle cx="658.2" cy="159.6" r="3.1" fill="#1f0c8f" stroke="#fff" stroke-opacity="0.35" stroke-width="0.6"/>
<circle cx="665.0" cy="155.6" r="3.1" fill="#1f0c8f" stroke="#fff" stroke-opacity="0.35" stroke-width="0.6"/>
<circle cx="663.6" cy="157.6" r="3.1" fill="#1f0c8f" stroke="#fff" stroke-opacity="0.35" stroke-width="0.6"/>
<circle cx="674.4" cy="152.2" r="3.1" fill="#7a02a8" stroke="#fff" stroke-opacity="0.35" stroke-width="0.6"/>
<circle cx="591.8" cy="164.4" r="3.1" fill="#a21d9a" stroke="#fff" stroke-opacity="0.35" stroke-width="0.6"/>
<circle cx="593.1" cy="167.1" r="3.1" fill="#1f0c8f" stroke="#fff" stroke-opacity="0.35" stroke-width="0.6"/>
<circle cx="602.0" cy="164.4" r="3.1" fill="#a21d9a" stroke="#fff" stroke-opacity="0.35" stroke-width="0.6"/>
<circle cx="604.0" cy="166.4" r="3.1" fill="#1f0c8f" stroke="#fff" stroke-opacity="0.35" stroke-width="0.6"/>
<circle cx="609.4" cy="168.5" r="3.1" fill="#1f0c8f" stroke="#fff" stroke-opacity="0.35" stroke-width="0.6"/>
<circle cx="608.0" cy="172.5" r="3.1" fill="#1f0c8f" stroke="#fff" stroke-opacity="0.35" stroke-width="0.6"/>
<circle cx="606.7" cy="175.9" r="3.1" fill="#1f0c8f" stroke="#fff" stroke-opacity="0.35" stroke-width="0.6"/>
<circle cx="619.6" cy="171.8" r="3.1" fill="#1f0c8f" stroke="#fff" stroke-opacity="0.35" stroke-width="0.6"/>
<circle cx="592.5" cy="175.9" r="3.1" fill="#1f0c8f" stroke="#fff" stroke-opacity="0.35" stroke-width="0.6"/>
<circle cx="639.2" cy="166.4" r="3.1" fill="#de6164" stroke="#fff" stroke-opacity="0.35" stroke-width="0.6"/>
<circle cx="646.7" cy="164.4" r="3.1" fill="#1f0c8f" stroke="#fff" stroke-opacity="0.35" stroke-width="0.6"/>
<circle cx="635.8" cy="171.8" r="3.1" fill="#4b03a1" stroke="#fff" stroke-opacity="0.35" stroke-width="0.6"/>
<circle cx="641.2" cy="174.6" r="3.1" fill="#7a02a8" stroke="#fff" stroke-opacity="0.35" stroke-width="0.6"/>
<circle cx="658.2" cy="168.5" r="3.1" fill="#7a02a8" stroke="#fff" stroke-opacity="0.35" stroke-width="0.6"/>
<circle cx="663.6" cy="165.7" r="3.1" fill="#1f0c8f" stroke="#fff" stroke-opacity="0.35" stroke-width="0.6"/>
<circle cx="655.5" cy="178.6" r="3.1" fill="#de6164" stroke="#fff" stroke-opacity="0.35" stroke-width="0.6"/>
<circle cx="646.7" cy="183.4" r="3.1" fill="#1f0c8f" stroke="#fff" stroke-opacity="0.35" stroke-width="0.6"/>
<circle cx="679.8" cy="163.0" r="3.1" fill="#de6164" stroke="#fff" stroke-opacity="0.35" stroke-width="0.6"/>
<circle cx="682.6" cy="156.3" r="3.1" fill="#1f0c8f" stroke="#fff" stroke-opacity="0.35" stroke-width="0.6"/>
<circle cx="680.5" cy="175.9" r="3.1" fill="#1f0c8f" stroke="#fff" stroke-opacity="0.35" stroke-width="0.6"/>
<circle cx="591.1" cy="190.8" r="3.1" fill="#f5923f" stroke="#fff" stroke-opacity="0.35" stroke-width="0.6"/>
<circle cx="598.6" cy="188.8" r="3.1" fill="#7a02a8" stroke="#fff" stroke-opacity="0.35" stroke-width="0.6"/>
<circle cx="615.5" cy="194.2" r="3.1" fill="#a21d9a" stroke="#fff" stroke-opacity="0.35" stroke-width="0.6"/>
<circle cx="646.0" cy="199.6" r="3.1" fill="#7a02a8" stroke="#fff" stroke-opacity="0.35" stroke-width="0.6"/>
<circle cx="692.6" cy="145.6" r="3.1" fill="#1f0c8f" stroke="#fff" stroke-opacity="0.35" stroke-width="0.6"/>
<circle cx="692.6" cy="151.4" r="3.1" fill="#1f0c8f" stroke="#fff" stroke-opacity="0.35" stroke-width="0.6"/>
<circle cx="692.6" cy="155.5" r="3.1" fill="#1f0c8f" stroke="#fff" stroke-opacity="0.35" stroke-width="0.6"/>
<circle cx="692.6" cy="162.0" r="3.1" fill="#1f0c8f" stroke="#fff" stroke-opacity="0.35" stroke-width="0.6"/>
<circle cx="692.6" cy="168.6" r="3.1" fill="#1f0c8f" stroke="#fff" stroke-opacity="0.35" stroke-width="0.6"/>
<circle cx="692.6" cy="174.3" r="3.1" fill="#1f0c8f" stroke="#fff" stroke-opacity="0.35" stroke-width="0.6"/>
<circle cx="684.5" cy="152.2" r="3.1" fill="#1f0c8f" stroke="#fff" stroke-opacity="0.35" stroke-width="0.6"/>
<circle cx="684.0" cy="154.6" r="3.1" fill="#a21d9a" stroke="#fff" stroke-opacity="0.35" stroke-width="0.6"/>
<circle cx="684.5" cy="159.5" r="3.1" fill="#7a02a8" stroke="#fff" stroke-opacity="0.35" stroke-width="0.6"/>
<circle cx="680.0" cy="162.8" r="3.1" fill="#de6164" stroke="#fff" stroke-opacity="0.35" stroke-width="0.6"/>
<circle cx="701.6" cy="153.8" r="3.1" fill="#1f0c8f" stroke="#fff" stroke-opacity="0.35" stroke-width="0.6"/>
<circle cx="700.8" cy="160.0" r="3.1" fill="#7a02a8" stroke="#fff" stroke-opacity="0.35" stroke-width="0.6"/>
<circle cx="695.0" cy="157.0" r="3.1" fill="#7a02a8" stroke="#fff" stroke-opacity="0.35" stroke-width="0.6"/>
<circle cx="680.8" cy="175.5" r="3.1" fill="#1f0c8f" stroke="#fff" stroke-opacity="0.35" stroke-width="0.6"/>
<circle cx="686.9" cy="172.6" r="3.1" fill="#de6164" stroke="#fff" stroke-opacity="0.35" stroke-width="0.6"/>
<circle cx="674.6" cy="151.8" r="3.1" fill="#7a02a8" stroke="#fff" stroke-opacity="0.35" stroke-width="0.6"/>
<circle cx="664.8" cy="155.5" r="3.1" fill="#1f0c8f" stroke="#fff" stroke-opacity="0.35" stroke-width="0.6"/>
<circle cx="663.6" cy="165.7" r="3.1" fill="#1f0c8f" stroke="#fff" stroke-opacity="0.35" stroke-width="0.6"/>
<circle cx="657.9" cy="168.1" r="3.1" fill="#7a02a8" stroke="#fff" stroke-opacity="0.35" stroke-width="0.6"/>
<circle cx="655.8" cy="178.4" r="3.1" fill="#c8437a" stroke="#fff" stroke-opacity="0.35" stroke-width="0.6"/>
<circle cx="692.6" cy="185.7" r="3.1" fill="#1f0c8f" stroke="#fff" stroke-opacity="0.35" stroke-width="0.6"/>
<circle cx="692.6" cy="189.0" r="3.1" fill="#1f0c8f" stroke="#fff" stroke-opacity="0.35" stroke-width="0.6"/>
<circle cx="692.6" cy="193.9" r="3.1" fill="#1f0c8f" stroke="#fff" stroke-opacity="0.35" stroke-width="0.6"/>
<circle cx="692.6" cy="197.5" r="3.1" fill="#1f0c8f" stroke="#fff" stroke-opacity="0.35" stroke-width="0.6"/>
<circle cx="692.6" cy="202.1" r="3.1" fill="#1f0c8f" stroke="#fff" stroke-opacity="0.35" stroke-width="0.6"/>
<circle cx="692.6" cy="208.6" r="3.1" fill="#1f0c8f" stroke="#fff" stroke-opacity="0.35" stroke-width="0.6"/>
<circle cx="692.6" cy="221.7" r="3.1" fill="#1f0c8f" stroke="#fff" stroke-opacity="0.35" stroke-width="0.6"/>
<circle cx="692.6" cy="229.1" r="3.1" fill="#1f0c8f" stroke="#fff" stroke-opacity="0.35" stroke-width="0.6"/>
<circle cx="692.6" cy="234.0" r="3.1" fill="#1f0c8f" stroke="#fff" stroke-opacity="0.35" stroke-width="0.6"/>
<circle cx="692.6" cy="238.9" r="3.1" fill="#1f0c8f" stroke="#fff" stroke-opacity="0.35" stroke-width="0.6"/>
<circle cx="692.6" cy="244.7" r="3.1" fill="#1f0c8f" stroke="#fff" stroke-opacity="0.35" stroke-width="0.6"/>
<circle cx="692.6" cy="257.8" r="3.1" fill="#1f0c8f" stroke="#fff" stroke-opacity="0.35" stroke-width="0.6"/>
<circle cx="692.6" cy="265.1" r="3.1" fill="#1f0c8f" stroke="#fff" stroke-opacity="0.35" stroke-width="0.6"/>
<circle cx="692.6" cy="302.0" r="3.1" fill="#1f0c8f" stroke="#fff" stroke-opacity="0.35" stroke-width="0.6"/>
<circle cx="692.6" cy="320.0" r="3.1" fill="#1f0c8f" stroke="#fff" stroke-opacity="0.35" stroke-width="0.6"/>
<circle cx="692.6" cy="323.6" r="3.1" fill="#1f0c8f" stroke="#fff" stroke-opacity="0.35" stroke-width="0.6"/>
<circle cx="692.6" cy="356.0" r="3.1" fill="#1f0c8f" stroke="#fff" stroke-opacity="0.35" stroke-width="0.6"/>
<circle cx="671.4" cy="257.0" r="3.1" fill="#a21d9a" stroke="#fff" stroke-opacity="0.35" stroke-width="0.6"/>
<circle cx="664.8" cy="299.5" r="3.1" fill="#f5923f" stroke="#fff" stroke-opacity="0.35" stroke-width="0.6"/>
<circle cx="682.4" cy="322.4" r="3.1" fill="#f5923f" stroke="#fff" stroke-opacity="0.35" stroke-width="0.6"/>
<circle cx="402.6" cy="194.3" r="3.1" fill="#c8437a" stroke="#fff" stroke-opacity="0.35" stroke-width="0.6"/>
<circle cx="422.1" cy="193.3" r="3.1" fill="#1f0c8f" stroke="#fff" stroke-opacity="0.35" stroke-width="0.6"/>
<circle cx="430.8" cy="190.0" r="3.1" fill="#7a02a8" stroke="#fff" stroke-opacity="0.35" stroke-width="0.6"/>
<circle cx="469.4" cy="200.8" r="3.1" fill="#a21d9a" stroke="#fff" stroke-opacity="0.35" stroke-width="0.6"/>
<circle cx="493.2" cy="199.8" r="3.1" fill="#de6164" stroke="#fff" stroke-opacity="0.35" stroke-width="0.6"/>
<circle cx="494.3" cy="191.0" r="3.1" fill="#7a02a8" stroke="#fff" stroke-opacity="0.35" stroke-width="0.6"/>
<circle cx="500.6" cy="193.3" r="3.1" fill="#1f0c8f" stroke="#fff" stroke-opacity="0.35" stroke-width="0.6"/>
<circle cx="442.7" cy="216.7" r="3.1" fill="#de6164" stroke="#fff" stroke-opacity="0.35" stroke-width="0.6"/>
<circle cx="442.7" cy="223.6" r="3.1" fill="#f5923f" stroke="#fff" stroke-opacity="0.35" stroke-width="0.6"/>
<circle cx="454.2" cy="212.3" r="3.1" fill="#a21d9a" stroke="#fff" stroke-opacity="0.35" stroke-width="0.6"/>
<circle cx="473.0" cy="211.7" r="3.1" fill="#fdc02a" stroke="#fff" stroke-opacity="0.35" stroke-width="0.6"/>
<circle cx="508.8" cy="223.6" r="3.1" fill="#f5923f" stroke="#fff" stroke-opacity="0.35" stroke-width="0.6"/>
<circle cx="511.6" cy="231.2" r="3.1" fill="#fdc02a" stroke="#fff" stroke-opacity="0.35" stroke-width="0.6"/>
<circle cx="536.6" cy="219.7" r="3.1" fill="#c8437a" stroke="#fff" stroke-opacity="0.35" stroke-width="0.6"/>
<circle cx="416.0" cy="259.8" r="3.1" fill="#de6164" stroke="#fff" stroke-opacity="0.35" stroke-width="0.6"/>
<circle cx="464.0" cy="270.7" r="3.1" fill="#de6164" stroke="#fff" stroke-opacity="0.35" stroke-width="0.6"/>
<circle cx="485.6" cy="262.6" r="3.1" fill="#7a02a8" stroke="#fff" stroke-opacity="0.35" stroke-width="0.6"/>
<circle cx="505.1" cy="251.1" r="3.1" fill="#de6164" stroke="#fff" stroke-opacity="0.35" stroke-width="0.6"/>
<circle cx="503.4" cy="255.0" r="3.1" fill="#a21d9a" stroke="#fff" stroke-opacity="0.35" stroke-width="0.6"/>
<circle cx="505.6" cy="259.4" r="3.1" fill="#fdc02a" stroke="#fff" stroke-opacity="0.35" stroke-width="0.6"/>
<circle cx="525.7" cy="257.9" r="3.1" fill="#a21d9a" stroke="#fff" stroke-opacity="0.35" stroke-width="0.6"/>
<circle cx="531.6" cy="250.7" r="3.1" fill="#f5923f" stroke="#fff" stroke-opacity="0.35" stroke-width="0.6"/>
<circle cx="548.5" cy="252.9" r="3.1" fill="#7a02a8" stroke="#fff" stroke-opacity="0.35" stroke-width="0.6"/>
<circle cx="501.2" cy="283.2" r="3.1" fill="#de6164" stroke="#fff" stroke-opacity="0.35" stroke-width="0.6"/>
<circle cx="518.6" cy="281.7" r="3.1" fill="#f5923f" stroke="#fff" stroke-opacity="0.35" stroke-width="0.6"/>
<circle cx="412.3" cy="327.9" r="3.1" fill="#fdc02a" stroke="#fff" stroke-opacity="0.35" stroke-width="0.6"/>
<circle cx="457.2" cy="353.3" r="3.1" fill="#7a02a8" stroke="#fff" stroke-opacity="0.35" stroke-width="0.6"/>
<circle cx="555.0" cy="271.3" r="3.1" fill="#fdc02a" stroke="#fff" stroke-opacity="0.35" stroke-width="0.6"/>
<circle cx="556.9" cy="191.1" r="3.1" fill="#1f0c8f" stroke="#fff" stroke-opacity="0.35" stroke-width="0.6"/>
<circle cx="591.2" cy="191.1" r="3.1" fill="#f5923f" stroke="#fff" stroke-opacity="0.35" stroke-width="0.6"/>
<circle cx="615.5" cy="193.9" r="3.1" fill="#a21d9a" stroke="#fff" stroke-opacity="0.35" stroke-width="0.6"/>
<circle cx="645.4" cy="201.3" r="3.1" fill="#a21d9a" stroke="#fff" stroke-opacity="0.35" stroke-width="0.6"/>
<circle cx="601.4" cy="214.9" r="3.1" fill="#f5923f" stroke="#fff" stroke-opacity="0.35" stroke-width="0.6"/>
<circle cx="580.8" cy="238.3" r="3.1" fill="#de6164" stroke="#fff" stroke-opacity="0.35" stroke-width="0.6"/>
<circle cx="548.9" cy="252.9" r="3.1" fill="#7a02a8" stroke="#fff" stroke-opacity="0.35" stroke-width="0.6"/>
<circle cx="576.4" cy="259.4" r="3.1" fill="#f5923f" stroke="#fff" stroke-opacity="0.35" stroke-width="0.6"/>
<circle cx="598.6" cy="252.4" r="3.1" fill="#f5923f" stroke="#fff" stroke-opacity="0.35" stroke-width="0.6"/>
<circle cx="556.9" cy="271.3" r="3.1" fill="#fdc02a" stroke="#fff" stroke-opacity="0.35" stroke-width="0.6"/>
<circle cx="574.9" cy="283.2" r="3.1" fill="#c8437a" stroke="#fff" stroke-opacity="0.35" stroke-width="0.6"/>
<circle cx="627.0" cy="277.4" r="3.1" fill="#f5923f" stroke="#fff" stroke-opacity="0.35" stroke-width="0.6"/>
<circle cx="637.6" cy="275.6" r="3.1" fill="#c8437a" stroke="#fff" stroke-opacity="0.35" stroke-width="0.6"/>
<circle cx="648.6" cy="323.3" r="3.1" fill="#de6164" stroke="#fff" stroke-opacity="0.35" stroke-width="0.6"/>
<circle cx="682.2" cy="322.3" r="3.1" fill="#f5923f" stroke="#fff" stroke-opacity="0.35" stroke-width="0.6"/>
<circle cx="617.2" cy="328.8" r="3.1" fill="#fdc02a" stroke="#fff" stroke-opacity="0.35" stroke-width="0.6"/>
<line x1="58.3" y1="419.8" x2="58.3" y2="833" stroke="#dcdcdc" stroke-width="1"/>
<line x1="257.4" y1="419.8" x2="257.4" y2="833" stroke="#dcdcdc" stroke-width="1"/>
<line x1="457.4" y1="419.8" x2="457.4" y2="833" stroke="#dcdcdc" stroke-width="1"/>
<line x1="656.7" y1="419.8" x2="656.7" y2="833" stroke="#dcdcdc" stroke-width="1"/>
<line x1="58.3" y1="833" x2="656.7" y2="833" stroke="#cfcfcf" stroke-width="2"/>
<g fill="none" stroke-width="1" stroke="#bcbcbc" stroke-opacity="0.8"><path d="M58.3 517.5C124.7 596.7 191.0 675.8 257.4 675.8M257.4 675.8C324.1 675.8 390.7 430.3 457.4 430.3"/><path d="M58.3 729.4C124.7 718.8 191.0 708.2 257.4 675.8M257.4 675.8C324.1 643.3 390.7 534.3 457.4 534.3"/><path d="M58.3 721.3C124.7 724.2 191.0 727.0 257.4 727.0M257.4 727.0C324.1 727.0 390.7 584.7 457.4 584.7"/><path d="M58.3 729.4C124.7 649.3 191.0 569.3 257.4 522.2M257.4 522.2C324.1 474.9 390.7 446.7 457.4 446.7"/><path d="M58.3 729.4C124.7 676.8 191.0 624.2 257.4 573.4M257.4 573.4C324.1 522.3 390.7 423.6 457.4 423.6"/><path d="M58.3 596.1C124.7 661.5 191.0 727.0 257.4 727.0M257.4 727.0C324.1 727.0 390.7 539.8 457.4 539.8"/><path d="M58.3 623.9C124.7 624.2 191.0 624.6 257.4 624.6M257.4 624.6C324.1 624.6 390.7 519.8 457.4 519.8"/><path d="M58.3 518.0C124.7 596.9 191.0 675.8 257.4 675.8M257.4 675.8C324.1 675.8 390.7 467.8 457.4 467.8"/><path d="M58.3 549.7C124.7 626.3 191.0 702.8 257.4 727.0M257.4 727.0C324.1 751.3 390.7 745.8 457.4 763.5"/><path d="M58.3 729.4C124.7 729.0 191.0 728.6 257.4 727.0M257.4 727.0C324.1 725.4 390.7 630.1 457.4 630.1"/><path d="M58.3 729.4C124.7 651.4 191.0 573.4 257.4 573.4M257.4 573.4C324.1 573.4 390.7 611.9 457.4 655.3"/><path d="M58.3 729.4C124.7 728.2 191.0 727.0 257.4 727.0M257.4 727.0C324.1 727.0 390.7 745.8 457.4 763.5"/><path d="M58.3 729.4C124.7 728.2 191.0 727.0 257.4 727.0M257.4 727.0C324.1 727.0 390.7 745.8 457.4 763.5"/><path d="M58.3 729.4C124.7 648.8 191.0 568.3 257.4 522.2M257.4 522.2C324.1 475.9 390.7 452.7 457.4 452.7"/><path d="M58.3 670.0C124.7 596.1 191.0 522.2 257.4 522.2M257.4 522.2C324.1 522.2 390.7 717.0 457.4 763.5"/><path d="M58.3 498.7C124.7 520.2 191.0 541.7 257.4 573.4M257.4 573.4C324.1 605.3 390.7 646.3 457.4 689.7"/><path d="M58.3 637.9C124.7 656.9 191.0 675.8 257.4 675.8M257.4 675.8C324.1 675.8 390.7 435.1 457.4 435.1"/><path d="M58.3 574.5C124.7 599.5 191.0 624.6 257.4 624.6M257.4 624.6C324.1 624.6 390.7 459.2 457.4 459.2"/><path d="M58.3 729.4C124.7 625.8 191.0 522.2 257.4 522.2M257.4 522.2C324.1 522.2 390.7 557.3 457.4 609.2"/><path d="M58.3 729.4C124.7 625.8 191.0 522.2 257.4 522.2M257.4 522.2C324.1 522.2 390.7 563.5 457.4 615.5"/><path d="M58.3 705.8C124.7 614.0 191.0 522.2 257.4 522.2M257.4 522.2C324.1 522.2 390.7 532.0 457.4 551.5"/><path d="M58.3 451.1C124.7 589.0 191.0 727.0 257.4 727.0M257.4 727.0C324.1 727.0 390.7 525.5 457.4 525.5"/><path d="M58.3 721.9C124.7 710.1 191.0 698.2 257.4 675.8M257.4 675.8C324.1 653.3 390.7 587.0 457.4 587.0"/><path d="M58.3 739.6C124.7 630.9 191.0 522.2 257.4 522.2M257.4 522.2C324.1 522.2 390.7 546.8 457.4 596.0"/><path d="M58.3 729.4C124.7 781.2 191.0 833.0 257.4 833.0M257.4 833.0C324.1 833.0 390.7 430.3 457.4 430.3"/><path d="M58.3 606.8C124.7 654.8 191.0 702.8 257.4 727.0M257.4 727.0C324.1 751.3 390.7 745.8 457.4 763.5"/><path d="M58.3 617.3C124.7 595.3 191.0 573.4 257.4 573.4M257.4 573.4C324.1 573.4 390.7 624.1 457.4 667.5"/><path d="M58.3 627.4C124.7 600.4 191.0 573.4 257.4 573.4M257.4 573.4C324.1 573.4 390.7 583.7 457.4 604.3"/><path d="M58.3 586.7C124.7 656.8 191.0 727.0 257.4 727.0M257.4 727.0C324.1 727.0 390.7 430.3 457.4 430.3"/><path d="M58.3 689.0C124.7 686.8 191.0 684.6 257.4 675.8M257.4 675.8C324.1 667.0 390.7 594.3 457.4 594.3"/><path d="M58.3 461.5C124.7 568.6 191.0 675.8 257.4 675.8M257.4 675.8C324.1 675.8 390.7 549.8 457.4 549.8"/><path d="M58.3 552.8C124.7 639.9 191.0 727.0 257.4 727.0M257.4 727.0C324.1 727.0 390.7 444.9 457.4 444.9"/><path d="M58.3 451.4C124.7 589.2 191.0 727.0 257.4 727.0M257.4 727.0C324.1 727.0 390.7 691.8 457.4 691.8"/><path d="M58.3 563.4C124.7 594.0 191.0 624.6 257.4 624.6M257.4 624.6C324.1 624.6 390.7 429.2 457.4 429.2"/><path d="M58.3 729.4C124.7 698.0 191.0 666.7 257.4 624.6M257.4 624.6C324.1 582.3 390.7 475.8 457.4 475.8"/><path d="M58.3 729.4C124.7 625.8 191.0 522.2 257.4 522.2M257.4 522.2C324.1 522.2 390.7 642.6 457.4 694.4"/><path d="M58.3 729.4C124.7 717.1 191.0 704.8 257.4 675.8M257.4 675.8C324.1 646.7 390.7 554.8 457.4 554.8"/><path d="M58.3 729.4C124.7 781.2 191.0 833.0 257.4 833.0M257.4 833.0C324.1 833.0 390.7 657.5 457.4 657.5"/><path d="M58.3 642.6C124.7 737.8 191.0 833.0 257.4 833.0M257.4 833.0C324.1 833.0 390.7 513.9 457.4 513.9"/><path d="M58.3 620.2C124.7 555.8 191.0 491.4 257.4 471.0M257.4 471.0C324.1 450.5 390.7 440.3 457.4 440.3"/><path d="M58.3 700.4C124.7 713.7 191.0 727.0 257.4 727.0M257.4 727.0C324.1 727.0 390.7 638.6 457.4 638.6"/><path d="M58.3 604.4C124.7 718.7 191.0 833.0 257.4 833.0M257.4 833.0C324.1 833.0 390.7 430.3 457.4 430.3"/><path d="M58.3 663.2C124.7 648.9 191.0 634.5 257.4 624.6M257.4 624.6C324.1 614.6 390.7 603.6 457.4 603.6"/><path d="M58.3 737.9C124.7 785.4 191.0 833.0 257.4 833.0M257.4 833.0C324.1 833.0 390.7 466.8 457.4 466.8"/><path d="M58.3 494.9C124.7 488.2 191.0 481.5 257.4 471.0M257.4 471.0C324.1 460.4 390.7 431.6 457.4 431.6"/><path d="M58.3 639.3C124.7 580.8 191.0 522.2 257.4 522.2M257.4 522.2C324.1 522.2 390.7 716.0 457.4 762.9"/><path d="M58.3 634.7C124.7 527.2 191.0 419.8 257.4 419.8M257.4 419.8C324.1 419.8 390.7 679.7 457.4 741.1"/><path d="M58.3 581.7C124.7 628.8 191.0 675.8 257.4 675.8M257.4 675.8C324.1 675.8 390.7 607.5 457.4 607.5"/><path d="M58.3 584.3C124.7 582.5 191.0 580.7 257.4 573.4M257.4 573.4C324.1 566.1 390.7 484.1 457.4 484.1"/><path d="M58.3 729.4C124.7 706.7 191.0 684.1 257.4 675.8M257.4 675.8C324.1 667.4 390.7 663.2 457.4 663.2"/><path d="M58.3 729.4C124.7 720.4 191.0 711.5 257.4 675.8M257.4 675.8C324.1 639.9 390.7 464.8 457.4 464.8"/><path d="M58.3 555.7C124.7 590.2 191.0 624.6 257.4 624.6M257.4 624.6C324.1 624.6 390.7 623.2 457.4 623.2"/><path d="M58.3 729.4C124.7 729.0 191.0 728.6 257.4 727.0M257.4 727.0C324.1 725.4 390.7 647.4 457.4 647.4"/><path d="M58.3 605.4C124.7 593.2 191.0 581.1 257.4 573.4M257.4 573.4C324.1 565.7 390.7 559.1 457.4 559.1"/><path d="M58.3 497.1C124.7 535.2 191.0 573.4 257.4 573.4M257.4 573.4C324.1 573.4 390.7 430.3 457.4 430.3"/></g>
<g fill="none" stroke-width="1.05" stroke-opacity="0.5"><path d="M58.3 525.2C124.7 600.5 191.0 675.8 257.4 675.8C324.1 675.8 390.7 480.3 457.4 480.3C523.8 480.3 590.3 594.6 656.7 708.8" stroke="#5f01a5"/><path d="M58.3 743.9C124.7 741.1 191.0 738.3 257.4 727.0C324.1 715.7 390.7 430.0 457.4 430.0C523.8 430.0 590.3 566.8 656.7 703.6" stroke="#6401a6"/><path d="M58.3 736.8C124.7 735.2 191.0 733.5 257.4 727.0C324.1 720.4 390.7 430.0 457.4 430.0C523.8 430.0 590.3 595.3 656.7 760.7" stroke="#250691"/><path d="M58.3 677.6C124.7 702.3 191.0 727.0 257.4 727.0C324.1 727.0 390.7 699.2 457.4 699.2C523.8 699.2 590.3 727.8 656.7 756.4" stroke="#2a0693"/><path d="M58.3 519.5C124.7 676.2 191.0 833.0 257.4 833.0C324.1 833.0 390.7 700.4 457.4 690.3C523.8 680.2 590.3 677.7 656.7 675.1" stroke="#7f07a6"/><path d="M58.3 734.0C124.7 732.9 191.0 731.7 257.4 727.0C324.1 722.3 390.7 430.0 457.4 430.0C523.8 430.0 590.3 523.2 656.7 616.5" stroke="#b12a90"/><path d="M58.3 737.2C124.7 735.5 191.0 733.8 257.4 727.0C324.1 720.1 390.7 430.0 457.4 430.0C523.8 430.0 590.3 552.5 656.7 675.1" stroke="#7f07a6"/><path d="M58.3 530.0C124.7 654.1 191.0 778.2 257.4 778.2C324.1 778.2 390.7 675.1 457.4 644.4C523.8 613.9 590.3 604.1 656.7 594.3" stroke="#bf3983"/><path d="M58.3 511.6C124.7 672.3 191.0 833.0 257.4 833.0C324.1 833.0 390.7 694.8 457.4 651.7C523.8 608.8 590.3 591.8 656.7 574.8" stroke="#cc4778"/><path d="M58.3 469.2C124.7 623.7 191.0 778.2 257.4 778.2C324.1 778.2 390.7 585.2 457.4 585.2C523.8 585.2 590.3 605.8 656.7 626.4" stroke="#a82395"/><path d="M58.3 749.2C124.7 737.0 191.0 724.7 257.4 675.8C324.1 626.6 390.7 430.0 457.4 430.0C523.8 430.0 590.3 517.4 656.7 604.9" stroke="#b83289"/><path d="M58.3 747.6C124.7 737.3 191.0 727.0 257.4 727.0C324.1 727.0 390.7 761.8 457.4 761.8C523.8 761.8 590.3 636.2 656.7 510.5" stroke="#eb7755"/><path d="M58.3 459.6C124.7 618.9 191.0 778.2 257.4 778.2C324.1 778.2 390.7 760.9 457.4 750.6C523.8 740.2 590.3 728.2 656.7 716.1" stroke="#5802a3"/><path d="M58.3 493.8C124.7 610.4 191.0 727.0 257.4 727.0C324.1 727.0 390.7 441.8 457.4 441.8C523.8 441.8 590.3 574.6 656.7 707.3" stroke="#6101a5"/><path d="M58.3 731.5C124.7 730.7 191.0 730.0 257.4 727.0C324.1 724.0 390.7 430.0 457.4 430.0C523.8 430.0 590.3 569.6 656.7 709.3" stroke="#5e01a5"/><path d="M58.3 451.4C124.7 642.2 191.0 833.0 257.4 833.0C324.1 833.0 390.7 587.3 457.4 587.3C523.8 587.3 590.3 606.8 656.7 626.4" stroke="#a82395"/><path d="M58.3 724.4C124.7 751.3 191.0 778.2 257.4 778.2C324.1 778.2 390.7 482.5 457.4 482.5C523.8 482.5 590.3 484.7 656.7 486.9" stroke="#f48948"/><path d="M58.3 475.2C124.7 483.0 191.0 490.8 257.4 522.2C324.1 553.7 390.7 715.8 457.4 715.8C523.8 715.8 590.3 622.7 656.7 529.6" stroke="#e3685f"/><path d="M58.3 441.3C124.7 461.8 191.0 482.4 257.4 522.2C324.1 562.2 390.7 681.1 457.4 681.1C523.8 681.1 590.3 606.5 656.7 531.8" stroke="#e26661"/><path d="M58.3 498.0C124.7 638.1 191.0 778.2 257.4 778.2C324.1 778.2 390.7 537.5 457.4 537.5C523.8 537.5 590.3 566.9 656.7 596.4" stroke="#be3884"/><path d="M58.3 739.7C124.7 737.6 191.0 735.5 257.4 727.0C324.1 718.5 390.7 710.5 457.4 677.4C523.8 644.4 590.3 564.0 656.7 483.6" stroke="#f48c46"/><path d="M58.3 540.3C124.7 582.4 191.0 624.6 257.4 624.6C324.1 624.6 390.7 557.8 457.4 557.8C523.8 557.8 590.3 565.9 656.7 574.0" stroke="#cd4877"/><path d="M58.3 525.1C124.7 626.0 191.0 727.0 257.4 727.0C324.1 727.0 390.7 651.3 457.4 648.9C523.8 646.4 590.3 645.8 656.7 645.2" stroke="#99159e"/><path d="M58.3 611.5C124.7 694.8 191.0 778.2 257.4 778.2C324.1 778.2 390.7 631.4 457.4 620.9C523.8 610.3 590.3 607.7 656.7 605.1" stroke="#b8328a"/><path d="M58.3 589.1C124.7 658.1 191.0 727.0 257.4 727.0C324.1 727.0 390.7 492.9 457.4 492.9C523.8 492.9 590.3 563.0 656.7 633.2" stroke="#a31e98"/><path d="M58.3 673.2C124.7 725.7 191.0 778.2 257.4 778.2C324.1 778.2 390.7 704.0 457.4 657.1C523.8 610.4 590.3 553.9 656.7 497.4" stroke="#f0814d"/><path d="M58.3 725.2C124.7 717.0 191.0 708.8 257.4 675.8C324.1 642.7 390.7 557.9 457.4 522.8C523.8 487.9 590.3 476.7 656.7 465.5" stroke="#f99b3d"/><path d="M58.3 618.5C124.7 698.3 191.0 778.2 257.4 778.2C324.1 778.2 390.7 743.7 457.4 702.6C523.8 661.8 590.3 597.3 656.7 532.8" stroke="#e26561"/><path d="M58.3 652.4C124.7 742.7 191.0 833.0 257.4 833.0C324.1 833.0 390.7 705.1 457.4 650.0C523.8 595.1 590.3 549.0 656.7 502.9" stroke="#ee7d50"/><path d="M58.3 736.4C124.7 757.3 191.0 778.2 257.4 778.2C324.1 778.2 390.7 772.7 457.4 761.8C523.8 750.9 590.3 615.1 656.7 479.3" stroke="#f59044"/><path d="M58.3 504.9C124.7 616.0 191.0 727.0 257.4 727.0C324.1 727.0 390.7 441.6 457.4 441.6C523.8 441.6 590.3 574.5 656.7 707.4" stroke="#6001a5"/><path d="M58.3 677.3C124.7 727.8 191.0 778.2 257.4 778.2C324.1 778.2 390.7 538.9 457.4 503.4C523.8 468.0 590.3 459.1 656.7 450.3" stroke="#fca835"/><path d="M58.3 731.6C124.7 729.3 191.0 727.0 257.4 727.0C324.1 727.0 390.7 757.2 457.4 757.2C523.8 757.2 590.3 603.7 656.7 450.3" stroke="#fca835"/><path d="M58.3 551.5C124.7 545.7 191.0 539.9 257.4 522.2C324.1 504.4 390.7 444.6 457.4 444.6C523.8 444.6 590.3 449.6 656.7 454.5" stroke="#fca437"/><path d="M58.3 734.5C124.7 733.3 191.0 732.0 257.4 727.0C324.1 722.0 390.7 466.0 457.4 463.1C523.8 460.3 590.3 459.5 656.7 458.8" stroke="#faa139"/><path d="M58.3 645.0C124.7 686.0 191.0 727.0 257.4 727.0C324.1 727.0 390.7 694.9 457.4 656.8C523.8 618.8 590.3 558.9 656.7 499.0" stroke="#f0804e"/><path d="M58.3 548.4C124.7 612.1 191.0 675.8 257.4 675.8C324.1 675.8 390.7 570.5 457.4 531.3C523.8 492.2 590.3 466.4 656.7 440.6" stroke="#fcb231"/><path d="M58.3 744.4C124.7 741.5 191.0 738.6 257.4 727.0C324.1 715.3 390.7 704.2 457.4 658.7C523.8 613.4 590.3 523.2 656.7 433.1" stroke="#fcb92e"/><path d="M58.3 483.1C124.7 630.7 191.0 778.2 257.4 778.2C324.1 778.2 390.7 505.0 457.4 505.0C523.8 505.0 590.3 570.5 656.7 636.0" stroke="#a01c9a"/><path d="M58.3 518.6C124.7 675.8 191.0 833.0 257.4 833.0C324.1 833.0 390.7 726.1 457.4 691.4C523.8 656.9 590.3 641.2 656.7 625.4" stroke="#a92395"/><path d="M58.3 734.0C124.7 732.9 191.0 731.7 257.4 727.0C324.1 722.3 390.7 605.0 457.4 556.3C523.8 507.8 590.3 471.5 656.7 435.2" stroke="#fcb72f"/><path d="M58.3 439.4C124.7 532.0 191.0 624.6 257.4 624.6C324.1 624.6 390.7 570.3 457.4 540.6C523.8 510.9 590.3 478.7 656.7 446.5" stroke="#fcac33"/><path d="M58.3 517.8C124.7 571.2 191.0 624.6 257.4 624.6C324.1 624.6 390.7 537.3 457.4 508.7C523.8 480.2 590.3 466.6 656.7 453.0" stroke="#fca636"/><path d="M58.3 731.3C124.7 754.8 191.0 778.2 257.4 778.2C324.1 778.2 390.7 430.0 457.4 430.0C523.8 430.0 590.3 446.7 656.7 463.4" stroke="#f99d3c"/><path d="M58.3 746.5C124.7 762.4 191.0 778.2 257.4 778.2C324.1 778.2 390.7 566.5 457.4 525.1C523.8 483.9 590.3 473.6 656.7 463.3" stroke="#f99d3c"/><path d="M58.3 734.2C124.7 733.0 191.0 731.8 257.4 727.0C324.1 722.2 390.7 559.7 457.4 511.9C523.8 464.1 590.3 451.9 656.7 439.6" stroke="#fcb331"/><path d="M58.3 724.2C124.7 725.6 191.0 727.0 257.4 727.0C324.1 727.0 390.7 653.5 457.4 605.9C523.8 558.4 590.3 500.0 656.7 441.7" stroke="#fcb132"/><path d="M58.3 514.8C124.7 492.9 191.0 471.0 257.4 471.0C324.1 471.0 390.7 663.4 457.4 663.4C523.8 663.4 590.3 554.1 656.7 444.9" stroke="#fcad33"/><path d="M58.3 732.4C124.7 730.8 191.0 729.2 257.4 727.0C324.1 724.8 390.7 724.4 457.4 719.2C523.8 714.1 590.3 601.0 656.7 487.9" stroke="#f38948"/><path d="M58.3 618.9C124.7 726.0 191.0 833.0 257.4 833.0C324.1 833.0 390.7 677.1 457.4 646.4C523.8 615.8 590.3 608.1 656.7 600.5" stroke="#bb3587"/><path d="M58.3 736.0C124.7 708.9 191.0 681.8 257.4 675.8C324.1 669.8 390.7 672.8 457.4 666.8C523.8 660.8 590.3 550.1 656.7 439.4" stroke="#fcb331"/><path d="M58.3 650.7C124.7 714.4 191.0 778.2 257.4 778.2C324.1 778.2 390.7 710.5 457.4 661.1C523.8 611.9 590.3 547.3 656.7 482.6" stroke="#f58d45"/><path d="M58.3 679.3C124.7 756.2 191.0 833.0 257.4 833.0C324.1 833.0 390.7 692.4 457.4 626.0C523.8 559.8 590.3 497.5 656.7 435.2" stroke="#fcb72f"/><path d="M58.3 731.0C124.7 730.4 191.0 729.7 257.4 727.0C324.1 724.3 390.7 719.3 457.4 703.8C523.8 688.4 590.3 573.9 656.7 459.3" stroke="#faa039"/><path d="M58.3 479.2C124.7 603.1 191.0 727.0 257.4 727.0C324.1 727.0 390.7 562.9 457.4 562.9C523.8 562.9 590.3 585.2 656.7 607.5" stroke="#b7308b"/><path d="M58.3 734.6C124.7 724.8 191.0 715.0 257.4 675.8C324.1 636.4 390.7 430.0 457.4 430.0C523.8 430.0 590.3 488.8 656.7 547.7" stroke="#da5b69"/><path d="M58.3 726.6C124.7 726.8 191.0 727.0 257.4 727.0C324.1 727.0 390.7 587.9 457.4 541.4C523.8 495.0 590.3 471.6 656.7 448.2" stroke="#fcaa34"/><path d="M58.3 736.7C124.7 757.5 191.0 778.2 257.4 778.2C324.1 778.2 390.7 755.5 457.4 710.0C523.8 664.6 590.3 568.8 656.7 472.9" stroke="#f79540"/><path d="M58.3 714.0C124.7 694.9 191.0 675.8 257.4 675.8C324.1 675.8 390.7 761.8 457.4 761.8C523.8 761.8 590.3 618.4 656.7 475.0" stroke="#f69342"/><path d="M58.3 741.5C124.7 739.1 191.0 736.7 257.4 727.0C324.1 717.3 390.7 478.0 457.4 460.3C523.8 442.6 590.3 438.2 656.7 433.8" stroke="#fcb82e"/><path d="M58.3 606.6C124.7 692.4 191.0 778.2 257.4 778.2C324.1 778.2 390.7 454.2 457.4 454.2C523.8 454.2 590.3 528.9 656.7 603.7" stroke="#b93389"/><path d="M58.3 590.3C124.7 505.0 191.0 419.8 257.4 419.8C324.1 419.8 390.7 761.7 457.4 761.7C523.8 761.7 590.3 632.9 656.7 504.2" stroke="#ee7c51"/><path d="M58.3 499.8C124.7 503.6 191.0 507.3 257.4 522.2C324.1 537.2 390.7 702.2 457.4 702.2C523.8 702.2 590.3 592.2 656.7 482.1" stroke="#f58d45"/><path d="M58.3 458.1C124.7 618.2 191.0 778.2 257.4 778.2C324.1 778.2 390.7 516.2 457.4 516.2C523.8 516.2 590.3 616.9 656.7 717.6" stroke="#5602a3"/><path d="M58.3 641.0C124.7 737.0 191.0 833.0 257.4 833.0C324.1 833.0 390.7 763.5 457.4 700.6C523.8 637.9 590.3 547.3 656.7 456.8" stroke="#fba238"/><path d="M58.3 429.8C124.7 450.4 191.0 471.0 257.4 471.0C324.1 471.0 390.7 463.8 457.4 463.8C523.8 463.8 590.3 474.0 656.7 484.2" stroke="#f48c46"/><path d="M58.3 434.9C124.7 441.1 191.0 447.2 257.4 471.0C324.1 494.9 390.7 578.3 457.4 578.3C523.8 578.3 590.3 551.8 656.7 525.2" stroke="#e56b5d"/><path d="M58.3 730.4C124.7 729.9 191.0 729.3 257.4 727.0C324.1 724.7 390.7 430.0 457.4 430.0C523.8 430.0 590.3 433.0 656.7 436.1" stroke="#fcb62f"/><path d="M58.3 729.9C124.7 754.0 191.0 778.2 257.4 778.2C324.1 778.2 390.7 708.2 457.4 650.8C523.8 593.7 590.3 514.4 656.7 435.2" stroke="#fcb72f"/><path d="M58.3 725.8C124.7 726.4 191.0 727.0 257.4 727.0C324.1 727.0 390.7 466.0 457.4 463.1C523.8 460.3 590.3 459.5 656.7 458.8" stroke="#faa139"/><path d="M58.3 749.6C124.7 745.8 191.0 742.0 257.4 727.0C324.1 711.9 390.7 474.0 457.4 461.5C523.8 449.0 590.3 445.9 656.7 442.8" stroke="#fcaf32"/><path d="M58.3 597.2C124.7 508.5 191.0 419.8 257.4 419.8C324.1 419.8 390.7 639.4 457.4 639.4C523.8 639.4 590.3 600.7 656.7 562.1" stroke="#d35071"/><path d="M58.3 739.7C124.7 758.9 191.0 778.2 257.4 778.2C324.1 778.2 390.7 430.0 457.4 430.0C523.8 430.0 590.3 473.3 656.7 516.6" stroke="#e87258"/><path d="M58.3 743.2C124.7 740.5 191.0 737.8 257.4 727.0C324.1 716.2 390.7 551.9 457.4 511.2C523.8 470.6 590.3 460.4 656.7 450.3" stroke="#fca835"/><path d="M58.3 718.5C124.7 775.8 191.0 833.0 257.4 833.0C324.1 833.0 390.7 497.1 457.4 497.1C523.8 497.1 590.3 590.7 656.7 684.4" stroke="#7604a7"/><path d="M58.3 730.5C124.7 729.9 191.0 729.3 257.4 727.0C324.1 724.7 390.7 430.0 457.4 430.0C523.8 430.0 590.3 478.4 656.7 526.9" stroke="#e46a5e"/><path d="M58.3 725.9C124.7 779.4 191.0 833.0 257.4 833.0C324.1 833.0 390.7 640.7 457.4 584.9C523.8 529.4 590.3 514.0 656.7 498.6" stroke="#f0804e"/><path d="M58.3 748.9C124.7 763.5 191.0 778.2 257.4 778.2C324.1 778.2 390.7 769.6 457.4 752.5C523.8 735.5 590.3 586.4 656.7 437.4" stroke="#fcb530"/><path d="M58.3 729.7C124.7 729.2 191.0 728.8 257.4 727.0C324.1 725.2 390.7 712.0 457.4 682.1C523.8 652.2 590.3 559.9 656.7 467.6" stroke="#f8993e"/><path d="M58.3 740.0C124.7 737.8 191.0 735.7 257.4 727.0C324.1 718.3 390.7 623.1 457.4 574.0C523.8 525.0 590.3 478.9 656.7 432.8" stroke="#fcb92e"/><path d="M58.3 727.5C124.7 727.4 191.0 727.3 257.4 727.0C324.1 726.7 390.7 708.9 457.4 672.7C523.8 636.6 590.3 534.3 656.7 432.0" stroke="#fcba2d"/><path d="M58.3 738.0C124.7 706.9 191.0 675.8 257.4 675.8C324.1 675.8 390.7 761.8 457.4 761.8C523.8 761.8 590.3 598.0 656.7 434.2" stroke="#fcb82e"/><path d="M58.3 642.5C124.7 659.2 191.0 675.8 257.4 675.8C324.1 675.8 390.7 560.4 457.4 522.0C523.8 483.8 590.3 464.9 656.7 446.0" stroke="#fcac33"/><path d="M58.3 748.1C124.7 743.5 191.0 739.0 257.4 727.0C324.1 714.9 390.7 709.9 457.4 675.8C523.8 641.7 590.3 548.7 656.7 455.7" stroke="#fba338"/><path d="M58.3 671.0C124.7 752.0 191.0 833.0 257.4 833.0C324.1 833.0 390.7 565.6 457.4 537.5C523.8 509.5 590.3 502.5 656.7 495.5" stroke="#f1824c"/><path d="M58.3 742.8C124.7 740.2 191.0 737.6 257.4 727.0C324.1 716.4 390.7 654.3 457.4 608.3C523.8 562.4 590.3 506.9 656.7 451.4" stroke="#fca736"/><path d="M58.3 734.4C124.7 730.7 191.0 727.0 257.4 727.0C324.1 727.0 390.7 761.8 457.4 761.8C523.8 761.8 590.3 615.7 656.7 469.6" stroke="#f8983f"/><path d="M58.3 739.8C124.7 737.7 191.0 735.6 257.4 727.0C324.1 718.4 390.7 474.5 457.4 461.8C523.8 449.0 590.3 445.8 656.7 442.6" stroke="#fcb032"/><path d="M58.3 727.6C124.7 727.5 191.0 727.4 257.4 727.0C324.1 726.6 390.7 724.7 457.4 720.0C523.8 715.4 590.3 588.2 656.7 461.0" stroke="#fa9f3a"/><path d="M58.3 738.8C124.7 736.8 191.0 734.9 257.4 727.0C324.1 719.1 390.7 576.3 457.4 526.7C523.8 477.4 590.3 453.7 656.7 430.0" stroke="#fcbc2d"/><path d="M58.3 741.9C124.7 739.4 191.0 736.9 257.4 727.0C324.1 717.0 390.7 644.1 457.4 598.1C523.8 552.2 590.3 501.8 656.7 451.4" stroke="#fca736"/><path d="M58.3 743.7C124.7 709.7 191.0 675.8 257.4 675.8C324.1 675.8 390.7 716.6 457.4 716.6C523.8 716.6 590.3 592.9 656.7 469.1" stroke="#f8983f"/><path d="M58.3 702.9C124.7 767.9 191.0 833.0 257.4 833.0C324.1 833.0 390.7 519.9 457.4 519.9C523.8 519.9 590.3 529.6 656.7 539.3" stroke="#de6065"/><path d="M58.3 628.4C124.7 649.2 191.0 670.0 257.4 675.8C324.1 681.6 390.7 684.6 457.4 684.6C523.8 684.6 590.3 598.6 656.7 512.6" stroke="#ea7556"/><path d="M58.3 742.6C124.7 731.4 191.0 720.3 257.4 675.8C324.1 631.1 390.7 494.1 457.4 470.9C523.8 447.8 590.3 442.1 656.7 436.3" stroke="#fcb62f"/><path d="M58.3 729.1C124.7 728.7 191.0 728.4 257.4 727.0C324.1 725.6 390.7 723.6 457.4 716.7C523.8 709.8 590.3 587.3 656.7 464.7" stroke="#f99c3c"/><path d="M58.3 749.0C124.7 745.3 191.0 741.6 257.4 727.0C324.1 712.3 390.7 571.2 457.4 523.6C523.8 476.2 590.3 459.0 656.7 441.7" stroke="#fcb132"/><path d="M58.3 736.3C124.7 734.7 191.0 733.2 257.4 727.0C324.1 720.8 390.7 571.2 457.4 522.4C523.8 473.8 590.3 454.2 656.7 434.5" stroke="#fcb82f"/><path d="M58.3 677.0C124.7 727.6 191.0 778.2 257.4 778.2C324.1 778.2 390.7 641.2 457.4 591.1C523.8 541.2 590.3 509.7 656.7 478.2" stroke="#f69143"/><path d="M58.3 745.8C124.7 736.4 191.0 727.0 257.4 727.0C324.1 727.0 390.7 751.7 457.4 751.7C523.8 751.7 590.3 604.2 656.7 456.8" stroke="#fba238"/><path d="M58.3 655.1C124.7 690.2 191.0 725.4 257.4 727.0C324.1 728.6 390.7 729.4 457.4 729.4C523.8 729.4 590.3 613.4 656.7 497.4" stroke="#f0814d"/><path d="M58.3 733.7C124.7 755.9 191.0 778.2 257.4 778.2C324.1 778.2 390.7 504.8 457.4 478.7C523.8 452.6 590.3 446.1 656.7 439.6" stroke="#fcb331"/><path d="M58.3 613.5C124.7 670.3 191.0 727.0 257.4 727.0C324.1 727.0 390.7 675.1 457.4 630.7C523.8 586.4 590.3 523.7 656.7 461.0" stroke="#fa9f3a"/><path d="M58.3 724.6C124.7 700.2 191.0 675.8 257.4 675.8C324.1 675.8 390.7 680.5 457.4 680.5C523.8 680.5 590.3 556.8 656.7 433.1" stroke="#fcb92e"/><path d="M58.3 742.7C124.7 722.3 191.0 702.0 257.4 675.8C324.1 649.5 390.7 614.7 457.4 585.2C523.8 555.8 590.3 527.5 656.7 499.1" stroke="#f0804e"/><path d="M58.3 674.9C124.7 726.6 191.0 778.2 257.4 778.2C324.1 778.2 390.7 741.0 457.4 687.4C523.8 634.1 590.3 546.0 656.7 457.9" stroke="#fba239"/><path d="M58.3 741.3C124.7 738.9 191.0 736.5 257.4 727.0C324.1 717.4 390.7 651.2 457.4 607.5C523.8 563.9 590.3 514.6 656.7 465.3" stroke="#f99b3d"/><path d="M58.3 480.4C124.7 656.7 191.0 833.0 257.4 833.0C324.1 833.0 390.7 629.0 457.4 629.0C523.8 629.0 590.3 635.9 656.7 642.9" stroke="#9b179d"/><path d="M58.3 667.7C124.7 697.3 191.0 727.0 257.4 727.0C324.1 727.0 390.7 638.4 457.4 591.1C523.8 544.0 590.3 494.0 656.7 443.9" stroke="#fcae32"/><path d="M58.3 741.2C124.7 713.9 191.0 686.7 257.4 675.8C324.1 664.9 390.7 670.3 457.4 659.4C523.8 648.5 590.3 540.8 656.7 433.1" stroke="#fcb92e"/><path d="M58.3 749.2C124.7 763.7 191.0 778.2 257.4 778.2C324.1 778.2 390.7 511.0 457.4 493.9C523.8 476.9 590.3 472.7 656.7 468.4" stroke="#f8993e"/><path d="M58.3 606.2C124.7 641.0 191.0 675.8 257.4 675.8C324.1 675.8 390.7 483.9 457.4 483.9C523.8 483.9 590.3 499.6 656.7 515.3" stroke="#e97357"/><path d="M58.3 733.7C124.7 704.7 191.0 675.8 257.4 675.8C324.1 675.8 390.7 742.5 457.4 742.5C523.8 742.5 590.3 598.0 656.7 453.6" stroke="#fca537"/><path d="M58.3 481.4C124.7 657.2 191.0 833.0 257.4 833.0C324.1 833.0 390.7 461.8 457.4 461.8C523.8 461.8 590.3 566.4 656.7 671.1" stroke="#8209a5"/><path d="M58.3 650.1C124.7 688.6 191.0 727.0 257.4 727.0C324.1 727.0 390.7 427.2 457.4 427.2C523.8 427.2 590.3 436.1 656.7 445.0" stroke="#fcad33"/><path d="M58.3 726.1C124.7 726.5 191.0 727.0 257.4 727.0C324.1 727.0 390.7 430.0 457.4 430.0C523.8 430.0 590.3 436.3 656.7 442.6" stroke="#fcb032"/><path d="M58.3 452.4C124.7 497.5 191.0 542.7 257.4 573.4C324.1 604.3 390.7 637.0 457.4 637.0C523.8 637.0 590.3 599.9 656.7 562.7" stroke="#d25071"/><path d="M58.3 480.7C124.7 475.9 191.0 471.0 257.4 471.0C324.1 471.0 390.7 657.8 457.4 657.8C523.8 657.8 590.3 584.7 656.7 511.7" stroke="#ea7655"/><path d="M58.3 743.1C124.7 760.7 191.0 778.2 257.4 778.2C324.1 778.2 390.7 625.2 457.4 568.7C523.8 512.4 590.3 476.0 656.7 439.6" stroke="#fcb331"/><path d="M58.3 724.8C124.7 725.2 191.0 725.5 257.4 727.0C324.1 728.5 390.7 734.8 457.4 734.8C523.8 734.8 590.3 598.2 656.7 461.5" stroke="#fa9f3b"/><path d="M58.3 559.8C124.7 643.4 191.0 727.0 257.4 727.0C324.1 727.0 390.7 638.8 457.4 608.4C523.8 578.1 590.3 561.3 656.7 544.5" stroke="#dc5d67"/><path d="M58.3 735.1C124.7 756.7 191.0 778.2 257.4 778.2C324.1 778.2 390.7 518.3 457.4 482.5C523.8 446.7 590.3 437.8 656.7 428.8" stroke="#fcbd2c"/><path d="M58.3 668.1C124.7 671.9 191.0 675.8 257.4 675.8C324.1 675.8 390.7 672.8 457.4 666.7C523.8 660.7 590.3 636.6 656.7 612.6" stroke="#b32c8e"/><path d="M58.3 738.8C124.7 736.9 191.0 734.9 257.4 727.0C324.1 719.1 390.7 663.7 457.4 616.7C523.8 570.0 590.3 508.0 656.7 446.0" stroke="#fcac33"/><path d="M58.3 735.5C124.7 734.1 191.0 732.7 257.4 727.0C324.1 721.3 390.7 432.0 457.4 430.0C523.8 427.9 590.3 427.4 656.7 426.9" stroke="#fcbf2b"/><path d="M58.3 746.9C124.7 719.7 191.0 692.6 257.4 675.8C324.1 658.9 390.7 665.9 457.4 646.1C523.8 626.4 590.3 533.0 656.7 439.6" stroke="#fcb331"/><path d="M58.3 747.3C124.7 743.9 191.0 740.6 257.4 727.0C324.1 713.4 390.7 626.2 457.4 580.4C523.8 534.7 590.3 493.6 656.7 452.5" stroke="#fca636"/><path d="M58.3 734.5C124.7 733.3 191.0 732.0 257.4 727.0C324.1 722.0 390.7 611.8 457.4 568.7C523.8 525.7 590.3 497.1 656.7 468.5" stroke="#f8993e"/><path d="M58.3 735.1C124.7 731.1 191.0 727.0 257.4 727.0C324.1 727.0 390.7 761.8 457.4 761.8C523.8 761.8 590.3 600.7 656.7 439.6" stroke="#fcb331"/><path d="M58.3 648.0C124.7 661.9 191.0 675.8 257.4 675.8C324.1 675.8 390.7 594.3 457.4 594.3C523.8 594.3 590.3 595.7 656.7 597.2" stroke="#bd3785"/><path d="M58.3 748.1C124.7 744.5 191.0 741.0 257.4 727.0C324.1 712.9 390.7 658.9 457.4 615.9C523.8 573.1 590.3 521.4 656.7 469.6" stroke="#f8983f"/><path d="M58.3 738.3C124.7 736.4 191.0 734.5 257.4 727.0C324.1 719.4 390.7 430.0 457.4 430.0C523.8 430.0 590.3 494.7 656.7 559.4" stroke="#d45270"/><path d="M58.3 732.5C124.7 731.6 191.0 730.7 257.4 727.0C324.1 723.3 390.7 687.1 457.4 649.6C523.8 612.2 590.3 557.4 656.7 502.6" stroke="#ee7d50"/><path d="M58.3 749.2C124.7 763.7 191.0 778.2 257.4 778.2C324.1 778.2 390.7 758.5 457.4 719.2C523.8 680.1 590.3 562.0 656.7 443.9" stroke="#fcae32"/><path d="M58.3 551.8C124.7 597.8 191.0 643.8 257.4 675.8C324.1 708.0 390.7 744.1 457.4 744.1C523.8 744.1 590.3 600.9 656.7 457.7" stroke="#fba239"/><path d="M58.3 728.3C124.7 716.9 191.0 705.4 257.4 675.8C324.1 646.0 390.7 589.1 457.4 549.7C523.8 510.5 590.3 475.2 656.7 439.8" stroke="#fcb231"/><path d="M58.3 517.3C124.7 615.7 191.0 714.2 257.4 727.0C324.1 739.9 390.7 746.3 457.4 746.3C523.8 746.3 590.3 677.2 656.7 608.1" stroke="#b6308b"/><path d="M58.3 745.3C124.7 761.7 191.0 778.2 257.4 778.2C324.1 778.2 390.7 701.0 457.4 646.9C523.8 593.1 590.3 523.8 656.7 454.5" stroke="#fca437"/><path d="M58.3 624.1C124.7 728.6 191.0 833.0 257.4 833.0C324.1 833.0 390.7 686.9 457.4 625.3C523.8 564.0 590.3 514.1 656.7 464.2" stroke="#f99c3c"/><path d="M58.3 740.4C124.7 738.2 191.0 735.9 257.4 727.0C324.1 718.0 390.7 564.9 457.4 526.7C523.8 488.6 590.3 479.1 656.7 469.6" stroke="#f8983f"/><path d="M58.3 623.6C124.7 675.3 191.0 727.0 257.4 727.0C324.1 727.0 390.7 713.1 457.4 685.3C523.8 657.5 590.3 586.0 656.7 514.5" stroke="#e97357"/><path d="M58.3 617.5C124.7 646.6 191.0 675.8 257.4 675.8C324.1 675.8 390.7 439.8 457.4 439.8C523.8 439.8 590.3 440.5 656.7 441.2" stroke="#fcb131"/><path d="M58.3 674.2C124.7 675.0 191.0 675.8 257.4 675.8C324.1 675.8 390.7 663.9 457.4 640.0C523.8 616.2 590.3 525.7 656.7 435.2" stroke="#fcb72f"/><path d="M58.3 681.8C124.7 704.4 191.0 727.0 257.4 727.0C324.1 727.0 390.7 483.3 457.4 483.3C523.8 483.3 590.3 497.9 656.7 512.6" stroke="#ea7556"/><path d="M58.3 649.8C124.7 662.8 191.0 675.8 257.4 675.8C324.1 675.8 390.7 662.8 457.4 636.9C523.8 611.0 590.3 531.7 656.7 452.5" stroke="#fca636"/><path d="M58.3 589.5C124.7 658.2 191.0 727.0 257.4 727.0C324.1 727.0 390.7 564.6 457.4 564.6C523.8 564.6 590.3 604.9 656.7 645.2" stroke="#99159e"/><path d="M58.3 732.6C124.7 719.8 191.0 707.0 257.4 675.8C324.1 644.4 390.7 577.9 457.4 544.5C523.8 511.1 590.3 493.0 656.7 475.0" stroke="#f69342"/><path d="M58.3 672.3C124.7 725.3 191.0 778.2 257.4 778.2C324.1 778.2 390.7 738.1 457.4 682.7C523.8 627.6 590.3 537.3 656.7 447.1" stroke="#fcab34"/><path d="M58.3 742.1C124.7 720.2 191.0 698.3 257.4 675.8C324.1 653.2 390.7 640.6 457.4 606.7C523.8 572.9 590.3 522.9 656.7 472.9" stroke="#f79540"/><path d="M58.3 734.0C124.7 732.8 191.0 731.7 257.4 727.0C324.1 722.3 390.7 581.6 457.4 532.9C523.8 484.4 590.3 459.8 656.7 435.2" stroke="#fcb72f"/><path d="M58.3 496.5C124.7 586.2 191.0 675.8 257.4 675.8C324.1 675.8 390.7 534.3 457.4 534.3C523.8 534.3 590.3 535.6 656.7 536.9" stroke="#e06263"/><path d="M58.3 723.9C124.7 724.4 191.0 724.9 257.4 727.0C324.1 729.1 390.7 747.9 457.4 747.9C523.8 747.9 590.3 592.1 656.7 436.3" stroke="#fcb62f"/><path d="M58.3 642.4C124.7 684.7 191.0 727.0 257.4 727.0C324.1 727.0 390.7 700.6 457.4 653.1C523.8 605.8 590.3 524.3 656.7 442.8" stroke="#fcaf32"/><path d="M58.3 466.3C124.7 649.6 191.0 833.0 257.4 833.0C324.1 833.0 390.7 668.2 457.4 643.9C523.8 619.6 590.3 613.5 656.7 607.5" stroke="#b7308b"/><path d="M58.3 653.2C124.7 690.1 191.0 727.0 257.4 727.0C324.1 727.0 390.7 534.2 457.4 498.8C523.8 463.6 590.3 454.8 656.7 446.0" stroke="#fcac33"/><path d="M58.3 650.9C124.7 714.6 191.0 778.2 257.4 778.2C324.1 778.2 390.7 625.7 457.4 571.0C523.8 516.5 590.3 483.4 656.7 450.3" stroke="#fca835"/><path d="M58.3 743.7C124.7 760.9 191.0 778.2 257.4 778.2C324.1 778.2 390.7 570.8 457.4 517.3C523.8 464.1 590.3 450.7 656.7 437.4" stroke="#fcb530"/><path d="M58.3 724.8C124.7 725.9 191.0 727.0 257.4 727.0C324.1 727.0 390.7 590.1 457.4 542.2C523.8 494.4 590.3 467.0 656.7 439.6" stroke="#fcb331"/><path d="M58.3 732.6C124.7 755.4 191.0 778.2 257.4 778.2C324.1 778.2 390.7 766.1 457.4 741.8C523.8 717.6 590.3 582.3 656.7 447.1" stroke="#fcab34"/><path d="M58.3 722.2C124.7 777.6 191.0 833.0 257.4 833.0C324.1 833.0 390.7 462.9 457.4 462.9C523.8 462.9 590.3 477.3 656.7 491.7" stroke="#f2854a"/><path d="M58.3 469.4C124.7 568.0 191.0 666.6 257.4 675.8C324.1 685.1 390.7 689.7 457.4 689.7C523.8 689.7 590.3 579.1 656.7 468.5" stroke="#f8993e"/><path d="M58.3 604.4C124.7 718.7 191.0 833.0 257.4 833.0C324.1 833.0 390.7 556.6 457.4 525.1C523.8 493.7 590.3 485.8 656.7 478.0" stroke="#f69143"/><path d="M58.3 747.8C124.7 735.8 191.0 723.8 257.4 675.8C324.1 627.6 390.7 430.0 457.4 430.0C523.8 430.0 590.3 502.5 656.7 575.0" stroke="#cc4778"/><path d="M58.3 727.4C124.7 718.8 191.0 710.2 257.4 675.8C324.1 641.3 390.7 513.7 457.4 484.9C523.8 456.1 590.3 448.9 656.7 441.7" stroke="#fcb132"/><path d="M58.3 747.6C124.7 725.9 191.0 704.2 257.4 675.8C324.1 647.2 390.7 611.1 457.4 576.5C523.8 542.0 590.3 505.2 656.7 468.5" stroke="#f8993e"/><path d="M58.3 733.7C124.7 755.9 191.0 778.2 257.4 778.2C324.1 778.2 390.7 550.0 457.4 511.5C523.8 473.2 590.3 463.6 656.7 454.0" stroke="#fca537"/><path d="M58.3 735.4C124.7 784.2 191.0 833.0 257.4 833.0C324.1 833.0 390.7 546.1 457.4 507.5C523.8 469.1 590.3 459.5 656.7 449.9" stroke="#fca935"/><path d="M58.3 739.4C124.7 737.4 191.0 735.3 257.4 727.0C324.1 718.7 390.7 705.8 457.4 663.4C523.8 621.2 590.3 539.0 656.7 456.8" stroke="#fba238"/><path d="M58.3 742.2C124.7 739.7 191.0 737.1 257.4 727.0C324.1 716.8 390.7 543.9 457.4 500.3C523.8 456.9 590.3 446.0 656.7 435.2" stroke="#fcb72f"/><path d="M58.3 730.4C124.7 729.9 191.0 729.3 257.4 727.0C324.1 724.7 390.7 430.0 457.4 430.0C523.8 430.0 590.3 441.5 656.7 453.0" stroke="#fca636"/><path d="M58.3 723.7C124.7 712.0 191.0 700.2 257.4 675.8C324.1 651.2 390.7 616.8 457.4 576.5C523.8 536.3 590.3 485.3 656.7 434.2" stroke="#fcb82e"/><path d="M58.3 742.6C124.7 760.4 191.0 778.2 257.4 778.2C324.1 778.2 390.7 765.0 457.4 738.6C523.8 712.2 590.3 607.0 656.7 501.8" stroke="#ee7d50"/><path d="M58.3 488.1C124.7 530.8 191.0 573.4 257.4 573.4C324.1 573.4 390.7 558.5 457.4 546.1C523.8 533.6 590.3 516.1 656.7 498.6" stroke="#f0804e"/><path d="M58.3 642.6C124.7 608.0 191.0 573.4 257.4 573.4C324.1 573.4 390.7 602.4 457.4 602.4C523.8 602.4 590.3 544.6 656.7 486.8" stroke="#f48948"/><path d="M58.3 730.7C124.7 730.1 191.0 729.4 257.4 727.0C324.1 724.5 390.7 430.0 457.4 430.0C523.8 430.0 590.3 469.6 656.7 509.3" stroke="#eb7854"/><path d="M58.3 725.6C124.7 726.3 191.0 727.0 257.4 727.0C324.1 727.0 390.7 491.4 457.4 472.4C523.8 453.4 590.3 448.7 656.7 443.9" stroke="#fcae32"/><path d="M58.3 684.3C124.7 731.3 191.0 778.2 257.4 778.2C324.1 778.2 390.7 473.3 457.4 469.3C523.8 465.3 590.3 464.3 656.7 463.3" stroke="#f99d3c"/><path d="M58.3 734.5C124.7 724.7 191.0 714.9 257.4 675.8C324.1 636.5 390.7 499.6 457.4 482.5C523.8 465.3 590.3 461.0 656.7 456.8" stroke="#fba238"/><path d="M58.3 727.1C124.7 727.1 191.0 727.0 257.4 727.0C324.1 726.9 390.7 443.4 457.4 443.4C523.8 443.4 590.3 458.9 656.7 474.4" stroke="#f79441"/><path d="M58.3 730.1C124.7 729.6 191.0 729.1 257.4 727.0C324.1 724.9 390.7 430.0 457.4 430.0C523.8 430.0 590.3 507.1 656.7 584.2" stroke="#c6417d"/><path d="M58.3 747.5C124.7 762.9 191.0 778.2 257.4 778.2C324.1 778.2 390.7 772.7 457.4 761.8C523.8 750.9 590.3 625.9 656.7 500.9" stroke="#ef7e4f"/><path d="M58.3 654.8C124.7 716.5 191.0 778.2 257.4 778.2C324.1 778.2 390.7 439.2 457.4 439.2C523.8 439.2 590.3 444.1 656.7 449.0" stroke="#fca935"/><path d="M58.3 484.4C124.7 658.7 191.0 833.0 257.4 833.0C324.1 833.0 390.7 627.8 457.4 614.1C523.8 600.5 590.3 597.1 656.7 593.7" stroke="#c03a83"/><path d="M58.3 674.3C124.7 726.3 191.0 778.2 257.4 778.2C324.1 778.2 390.7 618.1 457.4 565.6C523.8 513.3 590.3 488.3 656.7 463.3" stroke="#f99d3c"/><path d="M58.3 727.7C124.7 727.6 191.0 727.5 257.4 727.0C324.1 726.5 390.7 430.0 457.4 430.0C523.8 430.0 590.3 498.6 656.7 567.2" stroke="#d04d74"/><path d="M58.3 745.3C124.7 761.8 191.0 778.2 257.4 778.2C324.1 778.2 390.7 596.6 457.4 543.8C523.8 491.1 590.3 476.1 656.7 461.0" stroke="#fa9f3a"/><path d="M58.3 657.2C124.7 683.4 191.0 709.6 257.4 727.0C324.1 744.5 390.7 761.8 457.4 761.8C523.8 761.8 590.3 626.5 656.7 491.2" stroke="#f3864a"/><path d="M58.3 745.3C124.7 710.5 191.0 675.8 257.4 675.8C324.1 675.8 390.7 759.9 457.4 759.9C523.8 759.9 590.3 605.2 656.7 450.6" stroke="#fca835"/><path d="M58.3 674.1C124.7 726.1 191.0 778.2 257.4 778.2C324.1 778.2 390.7 706.3 457.4 656.3C523.8 606.6 590.3 542.9 656.7 479.3" stroke="#f59044"/><path d="M58.3 647.5C124.7 687.3 191.0 727.0 257.4 727.0C324.1 727.0 390.7 594.8 457.4 594.8C523.8 594.8 590.3 596.0 656.7 597.2" stroke="#bd3785"/><path d="M58.3 727.3C124.7 713.0 191.0 698.7 257.4 675.8C324.1 652.8 390.7 626.6 457.4 589.6C523.8 552.8 590.3 503.7 656.7 454.5" stroke="#fca437"/><path d="M58.3 741.6C124.7 738.6 191.0 735.6 257.4 727.0C324.1 718.3 390.7 714.6 457.4 689.7C523.8 665.0 590.3 557.6 656.7 450.3" stroke="#fca835"/><path d="M58.3 507.0C124.7 560.6 191.0 614.3 257.4 624.6C324.1 635.0 390.7 640.2 457.4 640.2C523.8 640.2 590.3 595.4 656.7 550.7" stroke="#d9586b"/><path d="M58.3 665.0C124.7 696.0 191.0 727.0 257.4 727.0C324.1 727.0 390.7 600.7 457.4 553.1C523.8 505.7 590.3 473.7 656.7 441.7" stroke="#fcb132"/><path d="M58.3 439.6C124.7 532.1 191.0 624.6 257.4 624.6C324.1 624.6 390.7 510.5 457.4 509.3C523.8 508.2 590.3 507.9 656.7 507.6" stroke="#ec7953"/><path d="M58.3 743.9C124.7 761.1 191.0 778.2 257.4 778.2C324.1 778.2 390.7 517.0 457.4 490.2C523.8 463.6 590.3 456.9 656.7 450.3" stroke="#fca835"/><path d="M58.3 624.2C124.7 701.2 191.0 778.2 257.4 778.2C324.1 778.2 390.7 703.2 457.4 656.3C523.8 609.6 590.3 553.6 656.7 497.5" stroke="#f0814d"/><path d="M58.3 737.7C124.7 734.5 191.0 731.4 257.4 727.0C324.1 722.6 390.7 721.8 457.4 711.5C523.8 701.1 590.3 569.3 656.7 437.4" stroke="#fcb530"/><path d="M58.3 537.2C124.7 555.3 191.0 573.4 257.4 573.4C324.1 573.4 390.7 566.4 457.4 566.4C523.8 566.4 590.3 569.7 656.7 573.1" stroke="#cd4877"/><path d="M58.3 658.2C124.7 692.6 191.0 727.0 257.4 727.0C324.1 727.0 390.7 474.3 457.4 469.6C523.8 465.0 590.3 463.8 656.7 462.6" stroke="#fa9e3b"/><path d="M58.3 729.0C124.7 702.4 191.0 675.8 257.4 675.8C324.1 675.8 390.7 757.1 457.4 757.1C523.8 757.1 590.3 611.2 656.7 465.3" stroke="#f99b3d"/><path d="M58.3 728.8C124.7 720.0 191.0 711.2 257.4 675.8C324.1 640.3 390.7 448.9 457.4 448.9C523.8 448.9 590.3 449.9 656.7 450.9" stroke="#fca835"/><path d="M58.3 743.6C124.7 760.9 191.0 778.2 257.4 778.2C324.1 778.2 390.7 761.4 457.4 727.7C523.8 694.1 590.3 571.2 656.7 448.2" stroke="#fcaa34"/><path d="M58.3 733.1C124.7 723.6 191.0 714.0 257.4 675.8C324.1 637.4 390.7 441.4 457.4 441.4C523.8 441.4 590.3 442.7 656.7 443.9" stroke="#fcae32"/><path d="M58.3 723.5C124.7 699.7 191.0 675.8 257.4 675.8C324.1 675.8 390.7 703.7 457.4 703.7C523.8 703.7 590.3 575.9 656.7 448.2" stroke="#fcaa34"/><path d="M58.3 606.0C124.7 666.5 191.0 727.0 257.4 727.0C324.1 727.0 390.7 709.7 457.4 675.1C523.8 640.6 590.3 551.4 656.7 462.2" stroke="#fa9e3b"/><path d="M58.3 725.7C124.7 726.4 191.0 727.0 257.4 727.0C324.1 727.0 390.7 440.4 457.4 439.2C523.8 438.0 590.3 437.7 656.7 437.4" stroke="#fcb530"/><path d="M58.3 746.9C124.7 743.6 191.0 740.3 257.4 727.0C324.1 713.7 390.7 668.7 457.4 620.6C523.8 572.8 590.3 506.2 656.7 439.6" stroke="#fcb331"/><path d="M58.3 748.4C124.7 721.6 191.0 694.9 257.4 675.8C324.1 656.6 390.7 661.8 457.4 633.8C523.8 605.9 590.3 522.8 656.7 439.6" stroke="#fcb331"/><path d="M58.3 650.0C124.7 679.2 191.0 708.4 257.4 727.0C324.1 745.7 390.7 761.8 457.4 761.8C523.8 761.8 590.3 628.6 656.7 495.5" stroke="#f1824c"/><path d="M58.3 605.6C124.7 631.5 191.0 657.5 257.4 675.8C324.1 694.2 390.7 715.3 457.4 715.3C523.8 715.3 590.3 586.6 656.7 457.9" stroke="#fba239"/><path d="M58.3 735.2C124.7 733.8 191.0 732.4 257.4 727.0C324.1 721.5 390.7 690.7 457.4 646.9C523.8 603.3 590.3 534.3 656.7 465.3" stroke="#f99b3d"/><path d="M58.3 532.1C124.7 560.3 191.0 588.5 257.4 624.6C324.1 660.9 390.7 749.4 457.4 749.4C523.8 749.4 590.3 607.9 656.7 466.4" stroke="#f99a3d"/><path d="M58.3 683.5C124.7 682.3 191.0 681.0 257.4 675.8C324.1 670.6 390.7 499.3 457.4 488.7C523.8 478.2 590.3 475.6 656.7 472.9" stroke="#f79540"/><path d="M58.3 715.5C124.7 721.3 191.0 727.0 257.4 727.0C324.1 727.0 390.7 512.6 457.4 494.9C523.8 477.3 590.3 472.9 656.7 468.5" stroke="#f8993e"/><path d="M58.3 657.4C124.7 717.8 191.0 778.2 257.4 778.2C324.1 778.2 390.7 459.8 457.4 450.5C523.8 441.4 590.3 439.1 656.7 436.8" stroke="#fcb52f"/><path d="M58.3 646.8C124.7 712.5 191.0 778.2 257.4 778.2C324.1 778.2 390.7 602.6 457.4 553.1C523.8 503.9 590.3 491.6 656.7 479.3" stroke="#f59044"/><path d="M58.3 726.6C124.7 752.4 191.0 778.2 257.4 778.2C324.1 778.2 390.7 430.0 457.4 430.0C523.8 430.0 590.3 466.8 656.7 503.6" stroke="#ee7c51"/><path d="M58.3 530.4C124.7 628.7 191.0 727.0 257.4 727.0C324.1 727.0 390.7 436.5 457.4 436.5C523.8 436.5 590.3 453.1 656.7 469.8" stroke="#f8983f"/><path d="M58.3 724.0C124.7 751.1 191.0 778.2 257.4 778.2C324.1 778.2 390.7 543.5 457.4 513.5C523.8 483.5 590.3 476.0 656.7 468.5" stroke="#f8993e"/><path d="M58.3 535.4C124.7 592.3 191.0 649.3 257.4 675.8C324.1 702.5 390.7 715.8 457.4 715.8C523.8 715.8 590.3 627.8 656.7 539.7" stroke="#de6065"/><path d="M58.3 732.6C124.7 782.8 191.0 833.0 257.4 833.0C324.1 833.0 390.7 538.1 457.4 494.5C523.8 451.0 590.3 440.2 656.7 429.3" stroke="#fcbd2c"/><path d="M58.3 545.8C124.7 610.8 191.0 675.8 257.4 675.8C324.1 675.8 390.7 669.9 457.4 658.0C523.8 646.2 590.3 579.6 656.7 512.9" stroke="#ea7556"/><path d="M58.3 482.4C124.7 489.1 191.0 495.7 257.4 522.2C324.1 548.8 390.7 715.8 457.4 715.8C523.8 715.8 590.3 633.2 656.7 550.7" stroke="#d9586b"/><path d="M58.3 723.6C124.7 725.3 191.0 727.0 257.4 727.0C324.1 727.0 390.7 430.0 457.4 430.0C523.8 430.0 590.3 462.9 656.7 495.8" stroke="#f1824c"/><path d="M58.3 742.9C124.7 787.9 191.0 833.0 257.4 833.0C324.1 833.0 390.7 474.6 457.4 463.1C523.8 451.7 590.3 448.8 656.7 446.0" stroke="#fcac33"/><path d="M58.3 664.9C124.7 695.2 191.0 725.5 257.4 727.0C324.1 728.5 390.7 729.3 457.4 729.3C523.8 729.3 590.3 612.4 656.7 495.5" stroke="#f1824c"/><path d="M58.3 656.7C124.7 717.4 191.0 778.2 257.4 778.2C324.1 778.2 390.7 636.8 457.4 581.1C523.8 525.5 590.3 484.7 656.7 443.9" stroke="#fcae32"/><path d="M58.3 629.5C124.7 678.3 191.0 727.0 257.4 727.0C324.1 727.0 390.7 590.3 457.4 545.3C523.8 500.3 590.3 478.6 656.7 456.8" stroke="#fba238"/><path d="M58.3 457.0C124.7 470.1 191.0 483.3 257.4 522.2C324.1 561.3 390.7 691.6 457.4 691.6C523.8 691.6 590.3 590.2 656.7 488.7" stroke="#f38849"/><path d="M58.3 590.7C124.7 633.3 191.0 675.8 257.4 675.8C324.1 675.8 390.7 527.6 457.4 518.1C523.8 508.7 590.3 506.4 656.7 504.0" stroke="#ee7c51"/><path d="M58.3 506.4C124.7 488.7 191.0 471.0 257.4 471.0C324.1 471.0 390.7 545.9 457.4 545.9C523.8 545.9 590.3 522.5 656.7 499.1" stroke="#f0804e"/><path d="M58.3 736.2C124.7 733.2 191.0 730.1 257.4 727.0C324.1 723.9 390.7 723.9 457.4 717.6C523.8 711.4 590.3 587.8 656.7 464.2" stroke="#f99c3c"/><path d="M58.3 737.2C124.7 721.6 191.0 706.1 257.4 675.8C324.1 645.4 390.7 592.4 457.4 554.7C523.8 517.2 590.3 483.7 656.7 450.3" stroke="#fca835"/><path d="M58.3 579.1C124.7 499.4 191.0 419.8 257.4 419.8C324.1 419.8 390.7 761.8 457.4 761.8C523.8 761.8 590.3 632.9 656.7 504.0" stroke="#ee7c51"/><path d="M58.3 724.5C124.7 725.8 191.0 727.0 257.4 727.0C324.1 727.0 390.7 598.0 457.4 550.1C523.8 502.3 590.3 471.0 656.7 439.6" stroke="#fcb331"/><path d="M58.3 744.4C124.7 741.5 191.0 738.6 257.4 727.0C324.1 715.3 390.7 637.8 457.4 589.6C523.8 541.6 590.3 490.1 656.7 438.5" stroke="#fcb430"/><path d="M58.3 734.7C124.7 733.5 191.0 732.2 257.4 727.0C324.1 721.8 390.7 596.8 457.4 554.7C523.8 512.9 590.3 493.9 656.7 475.0" stroke="#f69342"/><path d="M58.3 725.8C124.7 726.4 191.0 727.0 257.4 727.0C324.1 727.0 390.7 710.5 457.4 677.4C523.8 644.4 590.3 543.0 656.7 441.7" stroke="#fcb132"/><path d="M58.3 614.9C124.7 724.0 191.0 833.0 257.4 833.0C324.1 833.0 390.7 527.9 457.4 518.1C523.8 508.4 590.3 506.0 656.7 503.6" stroke="#ee7c51"/><path d="M58.3 731.8C124.7 755.0 191.0 778.2 257.4 778.2C324.1 778.2 390.7 751.2 457.4 697.1C523.8 643.2 590.3 546.8 656.7 450.4" stroke="#fca835"/><path d="M58.3 682.5C124.7 699.4 191.0 716.4 257.4 727.0C324.1 737.7 390.7 746.3 457.4 746.3C523.8 746.3 590.3 609.1 656.7 471.8" stroke="#f79640"/><path d="M58.3 665.4C124.7 670.6 191.0 675.8 257.4 675.8C324.1 675.8 390.7 459.7 457.4 450.8C523.8 441.9 590.3 439.6 656.7 437.4" stroke="#fcb530"/><path d="M58.3 666.6C124.7 696.8 191.0 727.0 257.4 727.0C324.1 727.0 390.7 420.6 457.4 420.6C523.8 420.6 590.3 435.2 656.7 449.8" stroke="#fca935"/><path d="M58.3 728.9C124.7 728.6 191.0 728.3 257.4 727.0C324.1 725.7 390.7 430.0 457.4 430.0C523.8 430.0 590.3 451.2 656.7 472.5" stroke="#f79540"/><path d="M58.3 521.5C124.7 624.3 191.0 727.0 257.4 727.0C324.1 727.0 390.7 647.8 457.4 600.5C523.8 553.4 590.3 498.6 656.7 443.9" stroke="#fcae32"/><path d="M58.3 728.5C124.7 702.2 191.0 675.8 257.4 675.8C324.1 675.8 390.7 761.7 457.4 761.7C523.8 761.7 590.3 637.3 656.7 512.9" stroke="#ea7556"/><path d="M58.3 598.2C124.7 715.6 191.0 833.0 257.4 833.0C324.1 833.0 390.7 606.6 457.4 559.4C523.8 512.5 590.3 500.7 656.7 489.0" stroke="#f38849"/><path d="M58.3 727.7C124.7 727.6 191.0 727.5 257.4 727.0C324.1 726.5 390.7 717.2 457.4 697.5C523.8 677.9 590.3 561.4 656.7 444.9" stroke="#fcad33"/><path d="M58.3 728.8C124.7 753.5 191.0 778.2 257.4 778.2C324.1 778.2 390.7 754.1 457.4 705.9C523.8 657.9 590.3 557.2 656.7 456.6" stroke="#fba338"/><path d="M58.3 446.0C124.7 484.1 191.0 522.2 257.4 522.2C324.1 522.2 390.7 505.5 457.4 500.5C523.8 495.5 590.3 493.8 656.7 492.2" stroke="#f2854a"/><path d="M58.3 733.0C124.7 732.0 191.0 731.0 257.4 727.0C324.1 723.0 390.7 430.0 457.4 430.0C523.8 430.0 590.3 460.3 656.7 490.6" stroke="#f3864a"/><path d="M58.3 738.0C124.7 736.1 191.0 734.3 257.4 727.0C324.1 719.7 390.7 604.4 457.4 555.1C523.8 505.9 590.3 468.7 656.7 431.4" stroke="#fcbb2d"/><path d="M58.3 740.8C124.7 738.5 191.0 736.2 257.4 727.0C324.1 717.7 390.7 577.6 457.4 531.2C523.8 484.9 590.3 466.7 656.7 448.5" stroke="#fcaa34"/><path d="M58.3 726.3C124.7 752.3 191.0 778.2 257.4 778.2C324.1 778.2 390.7 563.8 457.4 528.2C523.8 492.7 590.3 483.9 656.7 475.0" stroke="#f69342"/><path d="M58.3 680.6C124.7 703.8 191.0 727.0 257.4 727.0C324.1 727.0 390.7 685.6 457.4 638.5C523.8 591.5 590.3 518.2 656.7 444.9" stroke="#fcad33"/><path d="M58.3 742.0C124.7 734.5 191.0 727.0 257.4 727.0C324.1 727.0 390.7 739.4 457.4 739.4C523.8 739.4 590.3 621.0 656.7 502.6" stroke="#ee7d50"/><path d="M58.3 733.0C124.7 732.0 191.0 731.0 257.4 727.0C324.1 723.0 390.7 638.2 457.4 589.3C523.8 540.6 590.3 487.5 656.7 434.3" stroke="#fcb82e"/><path d="M58.3 546.4C124.7 636.7 191.0 727.0 257.4 727.0C324.1 727.0 390.7 627.1 457.4 587.3C523.8 547.8 590.3 518.4 656.7 489.0" stroke="#f38849"/><path d="M58.3 587.6C124.7 682.9 191.0 778.2 257.4 778.2C324.1 778.2 390.7 472.0 457.4 472.0C523.8 472.0 590.3 475.5 656.7 479.0" stroke="#f69044"/><path d="M58.3 744.3C124.7 732.9 191.0 721.5 257.4 675.8C324.1 629.9 390.7 487.2 457.4 463.6C523.8 440.1 590.3 434.2 656.7 428.4" stroke="#fcbe2c"/><path d="M58.3 525.5C124.7 498.2 191.0 471.0 257.4 471.0C324.1 471.0 390.7 471.5 457.4 472.4C523.8 473.3 590.3 476.3 656.7 479.3" stroke="#f59044"/><path d="M58.3 744.3C124.7 761.3 191.0 778.2 257.4 778.2C324.1 778.2 390.7 628.6 457.4 571.8C523.8 515.1 590.3 476.3 656.7 437.4" stroke="#fcb530"/><path d="M58.3 732.7C124.7 704.3 191.0 675.8 257.4 675.8C324.1 675.8 390.7 695.2 457.4 695.2C523.8 695.2 590.3 567.4 656.7 439.7" stroke="#fcb331"/><path d="M58.3 517.8C124.7 571.2 191.0 624.6 257.4 624.6C324.1 624.6 390.7 444.4 457.4 444.4C523.8 444.4 590.3 449.3 656.7 454.2" stroke="#fca537"/><path d="M58.3 732.9C124.7 755.6 191.0 778.2 257.4 778.2C324.1 778.2 390.7 683.5 457.4 628.4C523.8 573.5 590.3 510.8 656.7 448.2" stroke="#fcaa34"/><path d="M58.3 525.8C124.7 626.4 191.0 727.0 257.4 727.0C324.1 727.0 390.7 511.8 457.4 491.0C523.8 470.3 590.3 465.1 656.7 459.9" stroke="#faa03a"/><path d="M58.3 645.9C124.7 660.9 191.0 675.8 257.4 675.8C324.1 675.8 390.7 634.8 457.4 593.5C523.8 552.4 590.3 490.6 656.7 428.8" stroke="#fcbd2c"/><path d="M58.3 744.6C124.7 733.0 191.0 721.5 257.4 675.8C324.1 629.9 390.7 482.8 457.4 469.3C523.8 455.9 590.3 452.5 656.7 449.1" stroke="#fca935"/><path d="M58.3 750.0C124.7 745.7 191.0 741.4 257.4 727.0C324.1 712.6 390.7 705.8 457.4 663.4C523.8 621.2 590.3 528.2 656.7 435.2" stroke="#fcb72f"/><path d="M58.3 738.3C124.7 733.2 191.0 728.1 257.4 727.0C324.1 725.9 390.7 726.5 457.4 725.4C523.8 724.4 590.3 597.5 656.7 470.7" stroke="#f8973f"/><path d="M58.3 736.5C124.7 757.4 191.0 778.2 257.4 778.2C324.1 778.2 390.7 772.7 457.4 761.8C523.8 750.9 590.3 603.3 656.7 455.7" stroke="#fba338"/><path d="M58.3 728.1C124.7 719.4 191.0 710.7 257.4 675.8C324.1 640.8 390.7 547.4 457.4 507.3C523.8 467.3 590.3 451.2 656.7 435.2" stroke="#fcb72f"/><path d="M58.3 731.7C124.7 730.9 191.0 730.1 257.4 727.0C324.1 723.9 390.7 448.4 457.4 448.4C523.8 448.4 590.3 449.0 656.7 449.7" stroke="#fca935"/><path d="M58.3 731.2C124.7 703.5 191.0 675.8 257.4 675.8C324.1 675.8 390.7 692.9 457.4 692.9C523.8 692.9 590.3 568.4 656.7 443.9" stroke="#fcae32"/><path d="M58.3 737.6C124.7 757.9 191.0 778.2 257.4 778.2C324.1 778.2 390.7 772.7 457.4 761.8C523.8 750.9 590.3 600.6 656.7 450.3" stroke="#fca835"/><path d="M58.3 740.7C124.7 733.9 191.0 727.0 257.4 727.0C324.1 727.0 390.7 735.9 457.4 735.9C523.8 735.9 590.3 593.9 656.7 451.9" stroke="#fca736"/><path d="M58.3 519.9C124.7 593.0 191.0 666.0 257.4 675.8C324.1 685.6 390.7 690.5 457.4 690.5C523.8 690.5 590.3 591.3 656.7 492.1" stroke="#f2854a"/><path d="M58.3 737.5C124.7 708.2 191.0 678.9 257.4 675.8C324.1 672.7 390.7 674.3 457.4 671.2C523.8 668.1 590.3 558.2 656.7 448.2" stroke="#fcaa34"/><path d="M58.3 724.4C124.7 724.8 191.0 725.3 257.4 727.0C324.1 728.8 390.7 744.1 457.4 744.1C523.8 744.1 590.3 592.3 656.7 440.6" stroke="#fcb231"/><path d="M58.3 737.2C124.7 727.0 191.0 716.7 257.4 675.8C324.1 634.7 390.7 443.8 457.4 443.8C523.8 443.8 590.3 459.4 656.7 475.0" stroke="#f69342"/><path d="M58.3 724.1C124.7 711.5 191.0 699.0 257.4 675.8C324.1 652.5 390.7 624.6 457.4 584.6C523.8 544.8 590.3 490.7 656.7 436.7" stroke="#fcb62f"/><path d="M58.3 748.2C124.7 744.6 191.0 741.1 257.4 727.0C324.1 712.8 390.7 524.0 457.4 491.0C523.8 458.1 590.3 449.9 656.7 441.7" stroke="#fcb132"/><path d="M58.3 744.9C124.7 736.0 191.0 727.0 257.4 727.0C324.1 727.0 390.7 732.4 457.4 732.4C523.8 732.4 590.3 588.6 656.7 444.9" stroke="#fcad33"/><path d="M58.3 616.8C124.7 646.3 191.0 675.8 257.4 675.8C324.1 675.8 390.7 570.1 457.4 533.6C523.8 497.2 590.3 477.0 656.7 456.8" stroke="#fba238"/><path d="M58.3 734.8C124.7 722.2 191.0 709.6 257.4 675.8C324.1 641.9 390.7 567.3 457.4 531.3C523.8 495.4 590.3 477.7 656.7 459.9" stroke="#faa03a"/><path d="M58.3 652.7C124.7 715.5 191.0 778.2 257.4 778.2C324.1 778.2 390.7 688.0 457.4 636.1C523.8 584.4 590.3 526.0 656.7 467.6" stroke="#f8993e"/><path d="M58.3 501.2C124.7 460.5 191.0 419.8 257.4 419.8C324.1 419.8 390.7 427.0 457.4 431.5C523.8 436.0 590.3 441.5 656.7 446.9" stroke="#fcab34"/><path d="M58.3 733.3C124.7 714.4 191.0 695.5 257.4 675.8C324.1 656.0 390.7 653.6 457.4 614.7C523.8 576.1 590.3 509.9 656.7 443.7" stroke="#fcaf32"/><path d="M58.3 729.0C124.7 720.1 191.0 711.2 257.4 675.8C324.1 640.2 390.7 461.5 457.4 461.5C523.8 461.5 590.3 464.5 656.7 467.4" stroke="#f89a3e"/><path d="M58.3 740.1C124.7 737.9 191.0 735.8 257.4 727.0C324.1 718.2 390.7 605.1 457.4 557.8C523.8 510.8 590.3 477.3 656.7 443.9" stroke="#fcae32"/><path d="M58.3 737.9C124.7 732.5 191.0 727.0 257.4 727.0C324.1 727.0 390.7 755.3 457.4 755.3C523.8 755.3 590.3 595.1 656.7 435.0" stroke="#fcb72f"/><path d="M58.3 731.3C124.7 730.6 191.0 729.9 257.4 727.0C324.1 724.1 390.7 559.1 457.4 515.1C523.8 471.1 590.3 460.1 656.7 449.1" stroke="#fca935"/><path d="M58.3 714.8C124.7 773.9 191.0 833.0 257.4 833.0C324.1 833.0 390.7 578.8 457.4 531.2C523.8 483.8 590.3 472.0 656.7 460.1" stroke="#faa03a"/><path d="M58.3 726.9C124.7 726.9 191.0 727.0 257.4 727.0C324.1 727.0 390.7 419.7 457.4 419.7C523.8 419.7 590.3 429.8 656.7 439.9" stroke="#fcb231"/><path d="M58.3 725.5C124.7 725.7 191.0 726.0 257.4 727.0C324.1 728.0 390.7 761.8 457.4 761.8C523.8 761.8 590.3 603.3 656.7 444.9" stroke="#fcad33"/><path d="M58.3 718.9C124.7 776.0 191.0 833.0 257.4 833.0C324.1 833.0 390.7 552.3 457.4 507.7C523.8 463.1 590.3 452.0 656.7 440.9" stroke="#fcb131"/><path d="M58.3 744.3C124.7 721.3 191.0 698.3 257.4 675.8C324.1 653.2 390.7 649.0 457.4 609.0C523.8 569.1 590.3 502.7 656.7 436.3" stroke="#fcb62f"/><path d="M58.3 744.8C124.7 726.5 191.0 708.2 257.4 675.8C324.1 643.3 390.7 589.0 457.4 549.9C523.8 511.0 590.3 476.3 656.7 441.7" stroke="#fcb132"/></g>
<g fill="none" stroke-width="1" stroke="#a8a8a8" stroke-opacity="0.7"><path d="M457.4 430.3C523.8 430.3 590.3 631.7 656.7 833.0"/><path d="M457.4 534.3C523.8 534.3 590.3 683.6 656.7 833.0"/><path d="M457.4 584.7C523.8 584.7 590.3 708.8 656.7 833.0"/><path d="M457.4 446.7C523.8 446.7 590.3 639.8 656.7 833.0"/><path d="M457.4 423.6C523.8 423.6 590.3 628.3 656.7 833.0"/><path d="M457.4 539.8C523.8 539.8 590.3 686.4 656.7 833.0"/><path d="M457.4 519.8C523.8 519.8 590.3 676.4 656.7 833.0"/><path d="M457.4 467.8C523.8 467.8 590.3 650.4 656.7 833.0"/><path d="M457.4 763.5C523.8 781.2 590.3 807.1 656.7 833.0"/><path d="M457.4 630.1C523.8 630.1 590.3 731.6 656.7 833.0"/><path d="M457.4 655.3C523.8 698.5 590.3 765.8 656.7 833.0"/><path d="M457.4 763.5C523.8 781.2 590.3 807.1 656.7 833.0"/><path d="M457.4 763.5C523.8 781.2 590.3 807.1 656.7 833.0"/><path d="M457.4 452.7C523.8 452.7 590.3 642.9 656.7 833.0"/><path d="M457.4 763.5C523.8 809.8 590.3 821.4 656.7 833.0"/><path d="M457.4 689.7C523.8 732.9 590.3 783.0 656.7 833.0"/><path d="M457.4 435.1C523.8 435.1 590.3 634.1 656.7 833.0"/><path d="M457.4 459.2C523.8 459.2 590.3 646.1 656.7 833.0"/><path d="M457.4 609.2C523.8 661.0 590.3 747.0 656.7 833.0"/><path d="M457.4 615.5C523.8 667.3 590.3 750.1 656.7 833.0"/><path d="M457.4 551.5C523.8 570.9 590.3 702.0 656.7 833.0"/><path d="M457.4 525.5C523.8 525.5 590.3 679.3 656.7 833.0"/><path d="M457.4 587.0C523.8 587.0 590.3 710.0 656.7 833.0"/><path d="M457.4 596.0C523.8 644.9 590.3 739.0 656.7 833.0"/><path d="M457.4 430.3C523.8 430.3 590.3 631.7 656.7 833.0"/><path d="M457.4 763.5C523.8 781.2 590.3 807.1 656.7 833.0"/><path d="M457.4 667.5C523.8 710.7 590.3 771.9 656.7 833.0"/><path d="M457.4 604.3C523.8 624.9 590.3 728.9 656.7 833.0"/><path d="M457.4 430.3C523.8 430.3 590.3 631.7 656.7 833.0"/><path d="M457.4 594.3C523.8 594.3 590.3 713.7 656.7 833.0"/><path d="M457.4 549.8C523.8 549.8 590.3 691.4 656.7 833.0"/><path d="M457.4 444.9C523.8 444.9 590.3 639.0 656.7 833.0"/><path d="M457.4 691.8C523.8 691.8 590.3 762.4 656.7 833.0"/><path d="M457.4 429.2C523.8 429.2 590.3 631.1 656.7 833.0"/><path d="M457.4 475.8C523.8 475.8 590.3 654.4 656.7 833.0"/><path d="M457.4 694.4C523.8 746.1 590.3 789.6 656.7 833.0"/><path d="M457.4 554.8C523.8 554.8 590.3 693.9 656.7 833.0"/><path d="M457.4 657.5C523.8 657.5 590.3 745.3 656.7 833.0"/><path d="M457.4 513.9C523.8 513.9 590.3 673.4 656.7 833.0"/><path d="M457.4 440.3C523.8 440.3 590.3 636.6 656.7 833.0"/><path d="M457.4 638.6C523.8 638.6 590.3 735.8 656.7 833.0"/><path d="M457.4 430.3C523.8 430.3 590.3 631.7 656.7 833.0"/><path d="M457.4 603.6C523.8 603.6 590.3 718.3 656.7 833.0"/><path d="M457.4 466.8C523.8 466.8 590.3 649.9 656.7 833.0"/><path d="M457.4 431.6C523.8 431.6 590.3 632.3 656.7 833.0"/><path d="M457.4 762.9C523.8 809.6 590.3 821.3 656.7 833.0"/><path d="M457.4 741.1C523.8 802.4 590.3 817.7 656.7 833.0"/><path d="M457.4 607.5C523.8 607.5 590.3 720.3 656.7 833.0"/><path d="M457.4 484.1C523.8 484.1 590.3 658.5 656.7 833.0"/><path d="M457.4 663.2C523.8 663.2 590.3 748.1 656.7 833.0"/><path d="M457.4 464.8C523.8 464.8 590.3 648.9 656.7 833.0"/><path d="M457.4 623.2C523.8 623.2 590.3 728.1 656.7 833.0"/><path d="M457.4 647.4C523.8 647.4 590.3 740.2 656.7 833.0"/><path d="M457.4 559.1C523.8 559.1 590.3 696.1 656.7 833.0"/><path d="M457.4 430.3C523.8 430.3 590.3 631.7 656.7 833.0"/></g>
<defs><linearGradient id="accbar" x1="0" x2="0" y1="0" y2="1"><stop offset="0.0" stop-color="#fcc628"/><stop offset="0.1" stop-color="#fba338"/><stop offset="0.2" stop-color="#f2854a"/><stop offset="0.3" stop-color="#e4695e"/><stop offset="0.4" stop-color="#d24f72"/><stop offset="0.5" stop-color="#bc3686"/><stop offset="0.6" stop-color="#a11c9a"/><stop offset="0.7" stop-color="#8208a5"/><stop offset="0.8" stop-color="#6001a5"/><stop offset="0.9" stop-color="#3b049a"/><stop offset="1.0" stop-color="#0d0887"/></linearGradient></defs>
<rect x="657" y="419.6" width="19.5" height="361" fill="url(#accbar)"/>
<text x="58.3" y="409.5" font-family='"Liberation Sans", sans-serif' font-size="7" fill="#444" text-anchor="middle" font-weight="normal" >Learning rate</text>
<text x="257.4" y="409.5" font-family='"Liberation Sans", sans-serif' font-size="7" fill="#444" text-anchor="middle" font-weight="normal" >Training stages</text>
<text x="457.4" y="409.5" font-family='"Liberation Sans", sans-serif' font-size="7" fill="#444" text-anchor="middle" font-weight="normal" >Weight decay</text>
<text x="656.7" y="409.5" font-family='"Liberation Sans", sans-serif' font-size="7" fill="#444" text-anchor="middle" font-weight="normal" >Accuracy</text>
<text x="52" y="421.90000000000003" font-family='"Liberation Sans", sans-serif' font-size="6.6" fill="#777" text-anchor="end" stroke="#fff" stroke-width="1.6" stroke-opacity="0.85" paint-order="stroke">0.012</text>
<line x1="54" y1="419.6" x2="58" y2="419.6" stroke="#ccc" stroke-width="0.8"/>
<text x="52" y="451.40000000000003" font-family='"Liberation Sans", sans-serif' font-size="6.6" fill="#777" text-anchor="end" stroke="#fff" stroke-width="1.6" stroke-opacity="0.85" paint-order="stroke">0.011</text>
<line x1="54" y1="449.1" x2="58" y2="449.1" stroke="#ccc" stroke-width="0.8"/>
<text x="52" y="480.90000000000003" font-family='"Liberation Sans", sans-serif' font-size="6.6" fill="#777" text-anchor="end" stroke="#fff" stroke-width="1.6" stroke-opacity="0.85" paint-order="stroke">0.010</text>
<line x1="54" y1="478.6" x2="58" y2="478.6" stroke="#ccc" stroke-width="0.8"/>
<text x="52" y="510.40000000000003" font-family='"Liberation Sans", sans-serif' font-size="6.6" fill="#777" text-anchor="end" stroke="#fff" stroke-width="1.6" stroke-opacity="0.85" paint-order="stroke">0.009</text>
<line x1="54" y1="508.1" x2="58" y2="508.1" stroke="#ccc" stroke-width="0.8"/>
<text x="52" y="539.9" font-family='"Liberation Sans", sans-serif' font-size="6.6" fill="#777" text-anchor="end" stroke="#fff" stroke-width="1.6" stroke-opacity="0.85" paint-order="stroke">0.008</text>
<line x1="54" y1="537.6" x2="58" y2="537.6" stroke="#ccc" stroke-width="0.8"/>
<text x="52" y="569.4" font-family='"Liberation Sans", sans-serif' font-size="6.6" fill="#777" text-anchor="end" stroke="#fff" stroke-width="1.6" stroke-opacity="0.85" paint-order="stroke">0.007</text>
<line x1="54" y1="567.1" x2="58" y2="567.1" stroke="#ccc" stroke-width="0.8"/>
<text x="52" y="598.9" font-family='"Liberation Sans", sans-serif' font-size="6.6" fill="#777" text-anchor="end" stroke="#fff" stroke-width="1.6" stroke-opacity="0.85" paint-order="stroke">0.006</text>
<line x1="54" y1="596.6" x2="58" y2="596.6" stroke="#ccc" stroke-width="0.8"/>
<text x="52" y="628.4" font-family='"Liberation Sans", sans-serif' font-size="6.6" fill="#777" text-anchor="end" stroke="#fff" stroke-width="1.6" stroke-opacity="0.85" paint-order="stroke">0.005</text>
<line x1="54" y1="626.1" x2="58" y2="626.1" stroke="#ccc" stroke-width="0.8"/>
<text x="52" y="657.9" font-family='"Liberation Sans", sans-serif' font-size="6.6" fill="#777" text-anchor="end" stroke="#fff" stroke-width="1.6" stroke-opacity="0.85" paint-order="stroke">0.004</text>
<line x1="54" y1="655.6" x2="58" y2="655.6" stroke="#ccc" stroke-width="0.8"/>
<text x="52" y="687.4" font-family='"Liberation Sans", sans-serif' font-size="6.6" fill="#777" text-anchor="end" stroke="#fff" stroke-width="1.6" stroke-opacity="0.85" paint-order="stroke">0.003</text>
<line x1="54" y1="685.1" x2="58" y2="685.1" stroke="#ccc" stroke-width="0.8"/>
<text x="52" y="716.9" font-family='"Liberation Sans", sans-serif' font-size="6.6" fill="#777" text-anchor="end" stroke="#fff" stroke-width="1.6" stroke-opacity="0.85" paint-order="stroke">0.002</text>
<line x1="54" y1="714.6" x2="58" y2="714.6" stroke="#ccc" stroke-width="0.8"/>
<text x="52" y="746.4" font-family='"Liberation Sans", sans-serif' font-size="6.6" fill="#777" text-anchor="end" stroke="#fff" stroke-width="1.6" stroke-opacity="0.85" paint-order="stroke">0.001</text>
<line x1="54" y1="744.1" x2="58" y2="744.1" stroke="#ccc" stroke-width="0.8"/>
<text x="52" y="775.9" font-family='"Liberation Sans", sans-serif' font-size="6.6" fill="#777" text-anchor="end" stroke="#fff" stroke-width="1.6" stroke-opacity="0.85" paint-order="stroke">0.000</text>
<line x1="54" y1="773.6" x2="58" y2="773.6" stroke="#ccc" stroke-width="0.8"/>
<text x="52" y="835.3" font-family='"Liberation Sans", sans-serif' font-size="6.6" fill="#777" text-anchor="end" font-weight="normal" >null</text>
<text x="251" y="422.1" font-family='"Liberation Sans", sans-serif' font-size="6.6" fill="#777" text-anchor="end" stroke="#fff" stroke-width="1.6" stroke-opacity="0.85" paint-order="stroke">8.0</text>
<text x="251" y="447.70000000000005" font-family='"Liberation Sans", sans-serif' font-size="6.6" fill="#777" text-anchor="end" stroke="#fff" stroke-width="1.6" stroke-opacity="0.85" paint-order="stroke">7.5</text>
<text x="251" y="473.3" font-family='"Liberation Sans", sans-serif' font-size="6.6" fill="#777" text-anchor="end" stroke="#fff" stroke-width="1.6" stroke-opacity="0.85" paint-order="stroke">7.0</text>
<text x="251" y="498.90000000000003" font-family='"Liberation Sans", sans-serif' font-size="6.6" fill="#777" text-anchor="end" stroke="#fff" stroke-width="1.6" stroke-opacity="0.85" paint-order="stroke">6.5</text>
<text x="251" y="524.5" font-family='"Liberation Sans", sans-serif' font-size="6.6" fill="#777" text-anchor="end" stroke="#fff" stroke-width="1.6" stroke-opacity="0.85" paint-order="stroke">6.0</text>
<text x="251" y="550.1" font-family='"Liberation Sans", sans-serif' font-size="6.6" fill="#777" text-anchor="end" stroke="#fff" stroke-width="1.6" stroke-opacity="0.85" paint-order="stroke">5.5</text>
<text x="251" y="575.7" font-family='"Liberation Sans", sans-serif' font-size="6.6" fill="#777" text-anchor="end" stroke="#fff" stroke-width="1.6" stroke-opacity="0.85" paint-order="stroke">5.0</text>
<text x="251" y="601.3" font-family='"Liberation Sans", sans-serif' font-size="6.6" fill="#777" text-anchor="end" stroke="#fff" stroke-width="1.6" stroke-opacity="0.85" paint-order="stroke">4.5</text>
<text x="251" y="626.9" font-family='"Liberation Sans", sans-serif' font-size="6.6" fill="#777" text-anchor="end" stroke="#fff" stroke-width="1.6" stroke-opacity="0.85" paint-order="stroke">4.0</text>
<text x="251" y="652.5" font-family='"Liberation Sans", sans-serif' font-size="6.6" fill="#777" text-anchor="end" stroke="#fff" stroke-width="1.6" stroke-opacity="0.85" paint-order="stroke">3.5</text>
<text x="251" y="678.1" font-family='"Liberation Sans", sans-serif' font-size="6.6" fill="#777" text-anchor="end" stroke="#fff" stroke-width="1.6" stroke-opacity="0.85" paint-order="stroke">3.0</text>
<text x="251" y="703.7" font-family='"Liberation Sans", sans-serif' font-size="6.6" fill="#777" text-anchor="end" stroke="#fff" stroke-width="1.6" stroke-opacity="0.85" paint-order="stroke">2.5</text>
<text x="251" y="729.3" font-family='"Liberation Sans", sans-serif' font-size="6.6" fill="#777" text-anchor="end" stroke="#fff" stroke-width="1.6" stroke-opacity="0.85" paint-order="stroke">2.0</text>
<text x="251" y="754.9" font-family='"Liberation Sans", sans-serif' font-size="6.6" fill="#777" text-anchor="end" stroke="#fff" stroke-width="1.6" stroke-opacity="0.85" paint-order="stroke">1.5</text>
<text x="251" y="780.5" font-family='"Liberation Sans", sans-serif' font-size="6.6" fill="#777" text-anchor="end" stroke="#fff" stroke-width="1.6" stroke-opacity="0.85" paint-order="stroke">1.0</text>
<text x="251" y="835.3" font-family='"Liberation Sans", sans-serif' font-size="6.6" fill="#777" text-anchor="end" font-weight="normal" >null</text>
<text x="451" y="422.3" font-family='"Liberation Sans", sans-serif' font-size="6.6" fill="#777" text-anchor="end" stroke="#fff" stroke-width="1.6" stroke-opacity="0.85" paint-order="stroke">0.10</text>
<text x="451" y="456.65" font-family='"Liberation Sans", sans-serif' font-size="6.6" fill="#777" text-anchor="end" stroke="#fff" stroke-width="1.6" stroke-opacity="0.85" paint-order="stroke">0.09</text>
<text x="451" y="491.0" font-family='"Liberation Sans", sans-serif' font-size="6.6" fill="#777" text-anchor="end" stroke="#fff" stroke-width="1.6" stroke-opacity="0.85" paint-order="stroke">0.08</text>
<text x="451" y="525.3499999999999" font-family='"Liberation Sans", sans-serif' font-size="6.6" fill="#777" text-anchor="end" stroke="#fff" stroke-width="1.6" stroke-opacity="0.85" paint-order="stroke">0.07</text>
<text x="451" y="559.6999999999999" font-family='"Liberation Sans", sans-serif' font-size="6.6" fill="#777" text-anchor="end" stroke="#fff" stroke-width="1.6" stroke-opacity="0.85" paint-order="stroke">0.06</text>
<text x="451" y="594.05" font-family='"Liberation Sans", sans-serif' font-size="6.6" fill="#777" text-anchor="end" stroke="#fff" stroke-width="1.6" stroke-opacity="0.85" paint-order="stroke">0.05</text>
<text x="451" y="628.3999999999999" font-family='"Liberation Sans", sans-serif' font-size="6.6" fill="#777" text-anchor="end" stroke="#fff" stroke-width="1.6" stroke-opacity="0.85" paint-order="stroke">0.04</text>
<text x="451" y="662.75" font-family='"Liberation Sans", sans-serif' font-size="6.6" fill="#777" text-anchor="end" stroke="#fff" stroke-width="1.6" stroke-opacity="0.85" paint-order="stroke">0.03</text>
<text x="451" y="697.0999999999999" font-family='"Liberation Sans", sans-serif' font-size="6.6" fill="#777" text-anchor="end" stroke="#fff" stroke-width="1.6" stroke-opacity="0.85" paint-order="stroke">0.02</text>
<text x="451" y="731.4499999999999" font-family='"Liberation Sans", sans-serif' font-size="6.6" fill="#777" text-anchor="end" stroke="#fff" stroke-width="1.6" stroke-opacity="0.85" paint-order="stroke">0.01</text>
<text x="451" y="765.8" font-family='"Liberation Sans", sans-serif' font-size="6.6" fill="#777" text-anchor="end" stroke="#fff" stroke-width="1.6" stroke-opacity="0.85" paint-order="stroke">0.00</text>
<text x="451" y="835.3" font-family='"Liberation Sans", sans-serif' font-size="6.6" fill="#777" text-anchor="end" font-weight="normal" >null</text>
<text x="650" y="422.1000000000001" font-family='"Liberation Sans", sans-serif' font-size="6.6" fill="#777" text-anchor="end" stroke="#fff" stroke-width="1.6" stroke-opacity="0.85" paint-order="stroke">0.90</text>
<text x="650" y="447.80000000000007" font-family='"Liberation Sans", sans-serif' font-size="6.6" fill="#777" text-anchor="end" stroke="#fff" stroke-width="1.6" stroke-opacity="0.85" paint-order="stroke">0.85</text>
<text x="650" y="473.5" font-family='"Liberation Sans", sans-serif' font-size="6.6" fill="#777" text-anchor="end" stroke="#fff" stroke-width="1.6" stroke-opacity="0.85" paint-order="stroke">0.80</text>
<text x="650" y="499.20000000000005" font-family='"Liberation Sans", sans-serif' font-size="6.6" fill="#777" text-anchor="end" stroke="#fff" stroke-width="1.6" stroke-opacity="0.85" paint-order="stroke">0.75</text>
<text x="650" y="524.9000000000001" font-family='"Liberation Sans", sans-serif' font-size="6.6" fill="#777" text-anchor="end" stroke="#fff" stroke-width="1.6" stroke-opacity="0.85" paint-order="stroke">0.70</text>
<text x="650" y="550.6" font-family='"Liberation Sans", sans-serif' font-size="6.6" fill="#777" text-anchor="end" stroke="#fff" stroke-width="1.6" stroke-opacity="0.85" paint-order="stroke">0.65</text>
<text x="650" y="576.3" font-family='"Liberation Sans", sans-serif' font-size="6.6" fill="#777" text-anchor="end" stroke="#fff" stroke-width="1.6" stroke-opacity="0.85" paint-order="stroke">0.60</text>
<text x="650" y="602.0" font-family='"Liberation Sans", sans-serif' font-size="6.6" fill="#777" text-anchor="end" stroke="#fff" stroke-width="1.6" stroke-opacity="0.85" paint-order="stroke">0.55</text>
<text x="650" y="627.7" font-family='"Liberation Sans", sans-serif' font-size="6.6" fill="#777" text-anchor="end" stroke="#fff" stroke-width="1.6" stroke-opacity="0.85" paint-order="stroke">0.50</text>
<text x="650" y="653.4" font-family='"Liberation Sans", sans-serif' font-size="6.6" fill="#777" text-anchor="end" stroke="#fff" stroke-width="1.6" stroke-opacity="0.85" paint-order="stroke">0.45</text>
<text x="650" y="679.1" font-family='"Liberation Sans", sans-serif' font-size="6.6" fill="#777" text-anchor="end" stroke="#fff" stroke-width="1.6" stroke-opacity="0.85" paint-order="stroke">0.40</text>
<text x="650" y="704.8" font-family='"Liberation Sans", sans-serif' font-size="6.6" fill="#777" text-anchor="end" stroke="#fff" stroke-width="1.6" stroke-opacity="0.85" paint-order="stroke">0.35</text>
<text x="650" y="730.5" font-family='"Liberation Sans", sans-serif' font-size="6.6" fill="#777" text-anchor="end" stroke="#fff" stroke-width="1.6" stroke-opacity="0.85" paint-order="stroke">0.30</text>
<text x="650" y="756.1999999999999" font-family='"Liberation Sans", sans-serif' font-size="6.6" fill="#777" text-anchor="end" stroke="#fff" stroke-width="1.6" stroke-opacity="0.85" paint-order="stroke">0.25</text>
<text x="650" y="781.9" font-family='"Liberation Sans", sans-serif' font-size="6.6" fill="#777" text-anchor="end" stroke="#fff" stroke-width="1.6" stroke-opacity="0.85" paint-order="stroke">0.20</text>
<text x="650" y="835.3" font-family='"Liberation Sans", sans-serif' font-size="6.6" fill="#777" text-anchor="end" font-weight="normal" >null</text>
</svg>
<div class="runs"></div>
<svg width="738" height="1466" viewBox="0 0 738 1466" style="pointer-events:none">
<rect x="142.5" y="884.5" width="10.5" height="10.5" fill="#fff" stroke="#d0d0d0" stroke-width="1.6"/>
<path d="M144.8 890.2 L147 892.6 L151 887.3" fill="none" stroke="#5aa4d6" stroke-width="1.1"/>
<text x="160.5" y="894" font-family='"Liberation Sans", sans-serif' font-size="10" fill="#3a3a3a">All runs</text>
<text x="201.5" y="891.5" font-family='"Liberation Sans", sans-serif' font-size="9" fill="#a0a0a0">398</text>
<circle cx="233.3" cy="885.8" r="0.8" fill="#888"/><circle cx="233.3" cy="890.5" r="0.8" fill="#888"/><circle cx="233.3" cy="895.2" r="0.8" fill="#888"/>
</svg>
<div class="t" style="left:127.95px;top:14.48px;font-size:24.5px;line-height:24.5px;transform:scaleX(1.1009)">Hyperparameter Sweep Insights</div><div class="t" style="left:128.10px;top:958.48px;font-size:24.5px;line-height:24.5px;transform:scaleX(1.0780)">Insights from Sweeps</div><div class="t" style="left:128.10px;top:994.28px;font-size:12.8px;line-height:12.8px;transform:scaleX(1.0520)">I compared the average accuracy of my manual sweep (purple) with two random search</div><div class="t" style="left:128.10px;top:1010.28px;font-size:12.8px;line-height:12.8px;transform:scaleX(1.0537)">sweeps (blue and red) and a bayesian sweep trying to maximize human detection</div><div class="t" style="left:128.10px;top:1026.28px;font-size:12.8px;line-height:12.8px;transform:scaleX(1.0499)">accuracy (gray). The automated sweeps have higher variance, finding lots of inferior</div><div class="t" style="left:128.10px;top:1042.28px;font-size:12.8px;line-height:12.8px;transform:scaleX(1.0621)">combinations but also a few surprisingly superior combinations.</div><div class="t" style="left:128.10px;top:1072.51px;font-size:18.5px;line-height:18.5px;transform:scaleX(1.0876)">Objective metric matters</div><div class="t" style="left:128.10px;top:1102.28px;font-size:12.8px;line-height:12.8px;transform:scaleX(1.0420)">I tried a sweep with Bayesian optimization to maximize IoU (green). This ran the longest</div><div class="t" style="left:128.10px;top:1118.28px;font-size:12.8px;line-height:12.8px;transform:scaleX(1.0553)">and yielded some of the best new models and ideas to try. In particular, it found</div><div class="t" style="left:128.10px;top:1134.28px;font-size:12.8px;line-height:12.8px;transform:scaleX(1.0755)">hyperparameter combinations that started to detect humans, and suggested that</div><div class="t" style="left:128.10px;top:1150.28px;font-size:12.8px;line-height:12.8px;transform:scaleX(1.0376)">Alexnet was worth revisiting.</div><div class="t" style="left:128.10px;top:1178.28px;font-size:12.8px;line-height:12.8px;transform:scaleX(1.0336)">Note: dataset size varies substantially (gray and green sweeps: ~1400 train, ~100</div><div class="t" style="left:128.10px;top:1195.28px;font-size:12.8px;line-height:12.8px;transform:scaleX(1.0534)">otherwise)</div><div class="t" style="left:128.10px;top:1224.51px;font-size:18.5px;line-height:18.5px;transform:scaleX(1.0684)">Next steps</div><div class="t" style="left:147.70px;top:1251.38px;font-size:12.8px;line-height:12.8px;transform:scaleX(1.0443)">increase validation data size (default to training on 20%)</div><div class="t" style="left:147.70px;top:1277.28px;font-size:12.8px;line-height:12.8px;transform:scaleX(1.0785)">decrease learning rate</div><div class="t" style="left:147.70px;top:1300.28px;font-size:12.8px;line-height:12.8px;transform:scaleX(1.0503)">decrease weight decay</div><div class="t" style="left:147.70px;top:1321.38px;font-size:12.8px;line-height:12.8px;transform:scaleX(1.0427)">increase batch size as much as possible (8?)</div><div class="t" style="left:147.70px;top:1345.68px;font-size:12.8px;line-height:12.8px;transform:scaleX(1.0599)">evaluate training stages</div><div class="t" style="left:147.70px;top:1367.68px;font-size:12.8px;line-height:12.8px;transform:scaleX(1.0601)">filter dataset to images with humans only</div><div class="t" style="left:147.70px;top:1392.28px;font-size:12.8px;line-height:12.8px;transform:scaleX(1.0608)">explore encoder variants that balance Alexnet advantages for finding humans with</div><div class="t" style="left:147.70px;top:1408.28px;font-size:12.8px;line-height:12.8px;transform:scaleX(1.0600)">the better overall precision of Resnet</div><div class="t" style="left:147.70px;top:1432.28px;font-size:12.8px;line-height:12.8px;transform:scaleX(1.0671)">custom loss prioritizing human detection</div>
</body></html>
